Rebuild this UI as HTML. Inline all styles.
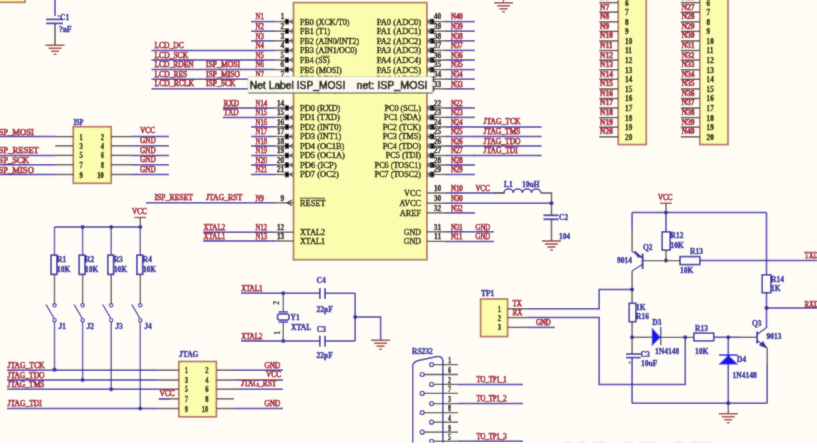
<!DOCTYPE html>
<html><head><meta charset="utf-8"><style>
html,body{margin:0;padding:0;background:#FFFCF6;overflow:hidden;}
svg{display:block;}
text{font-family:"Liberation Serif", serif;font-weight:bold;}
</style></head><body>
<svg width="817" height="448" viewBox="0 0 817 448">
<defs><filter id="bl" x="-2%" y="-2%" width="104%" height="104%"><feConvolveMatrix order="3" kernelMatrix="1 2 1 2 16 2 1 2 1" edgeMode="duplicate"/></filter></defs>
<rect x="0" y="0" width="817" height="448" fill="#FFFCF6"/>
<g filter="url(#bl)">
<rect x="0" y="0" width="817" height="448" fill="#FFFCF6"/>
<rect x="-5.0" y="-10.0" width="30.0" height="12.3" fill="#FCFCAE" stroke="#B4705A" stroke-width="1.7"/>
<line x1="55.0" y1="0.0" x2="55.0" y2="16.0" stroke="#3428A8" stroke-width="1.5"/>
<line x1="55.0" y1="23.4" x2="55.0" y2="45.0" stroke="#3a2424" stroke-width="1.3"/>
<line x1="46.0" y1="19.4" x2="63.0" y2="19.4" stroke="#3428A8" stroke-width="1.7"/>
<line x1="46.0" y1="23.4" x2="63.0" y2="23.4" stroke="#3428A8" stroke-width="1.7"/>
<circle cx="58.5" cy="16" r="0.9" fill="#1E1E9C"/>
<text x="60.0" y="20.0" fill="#1E1E9C" stroke="#1E1E9C" stroke-width="0.4" font-size="7.9" text-anchor="start" textLength="9.17" lengthAdjust="spacingAndGlyphs" >C1</text>
<text x="59.0" y="31.5" fill="#1E1E9C" stroke="#1E1E9C" stroke-width="0.4" font-size="7.9" text-anchor="start" textLength="12.51" lengthAdjust="spacingAndGlyphs" >?nF</text>
<line x1="45.5" y1="45.3" x2="64.5" y2="45.3" stroke="#9A3030" stroke-width="1.5"/>
<line x1="48.5" y1="48.3" x2="61.5" y2="48.3" stroke="#9A3030" stroke-width="1.5"/>
<line x1="51.0" y1="51.3" x2="59.0" y2="51.3" stroke="#9A3030" stroke-width="1.5"/>
<line x1="53.5" y1="54.3" x2="56.5" y2="54.3" stroke="#9A3030" stroke-width="1.3"/>
<line x1="503.5" y1="-2.0" x2="503.5" y2="2.8" stroke="#9A3030" stroke-width="1.3"/>
<line x1="494.0" y1="2.8" x2="513.0" y2="2.8" stroke="#9A3030" stroke-width="1.5"/>
<line x1="497.0" y1="5.8" x2="510.0" y2="5.8" stroke="#9A3030" stroke-width="1.5"/>
<line x1="499.5" y1="8.8" x2="507.5" y2="8.8" stroke="#9A3030" stroke-width="1.5"/>
<line x1="502.0" y1="11.8" x2="505.0" y2="11.8" stroke="#9A3030" stroke-width="1.3"/>
<rect x="293.5" y="2.6" width="133.4" height="257.1" fill="#FCFCAE" stroke="#B4705A" stroke-width="1.7"/>
<line x1="251.0" y1="21.6" x2="275.0" y2="21.6" stroke="#3428A8" stroke-width="1.5"/>
<line x1="275.0" y1="21.6" x2="293.5" y2="21.6" stroke="#454545" stroke-width="1.3"/>
<path d="M284.8,18.8 h4.2 v5.6 h-4.2 z" fill="#111"/>
<path d="M293.3,19.2 L289,21.6 L293.3,24.0" fill="none" stroke="#555a66" stroke-width="1"/>
<text x="284.4" y="19.4" fill="#080600" stroke="#080600" stroke-width="0.3" font-size="7.6" text-anchor="end" >1</text>
<text x="255.5" y="19.3" fill="#A82438" stroke="#A82438" stroke-width="0.75" style="font-weight:normal" font-size="8" text-anchor="start" textLength="8.31" lengthAdjust="spacingAndGlyphs">N1</text>
<text x="300.0" y="24.5" fill="#080600" stroke="#080600" stroke-width="0.38" style="font-weight:normal" font-size="8.2" text-anchor="start" textLength="49.55" lengthAdjust="spacingAndGlyphs">PB0 (XCK/T0)</text>
<line x1="426.9" y1="21.6" x2="445.0" y2="21.6" stroke="#454545" stroke-width="1.3"/>
<line x1="445.0" y1="21.6" x2="475.0" y2="21.6" stroke="#3428A8" stroke-width="1.5"/>
<path d="M429.8,18.8 h4.4 v5.6 h-4.4 z" fill="#111"/>
<path d="M427.2,19.2 L431.5,21.6 L427.2,24.0" fill="none" stroke="#555a66" stroke-width="1"/>
<text x="437.6" y="19.4" fill="#080600" stroke="#080600" stroke-width="0.3" font-size="7.6" text-anchor="middle" >40</text>
<text x="451.0" y="19.3" fill="#A82438" stroke="#A82438" stroke-width="0.75" style="font-weight:normal" font-size="8" text-anchor="start" textLength="11.71" lengthAdjust="spacingAndGlyphs">N40</text>
<text x="421.0" y="24.5" fill="#080600" stroke="#080600" stroke-width="0.38" style="font-weight:normal" font-size="8.2" text-anchor="end" textLength="44.24" lengthAdjust="spacingAndGlyphs">PA0 (ADC0)</text>
<line x1="251.0" y1="31.2" x2="275.0" y2="31.2" stroke="#3428A8" stroke-width="1.5"/>
<line x1="275.0" y1="31.2" x2="293.5" y2="31.2" stroke="#454545" stroke-width="1.3"/>
<path d="M284.8,28.4 h4.2 v5.6 h-4.2 z" fill="#111"/>
<path d="M293.3,28.8 L289,31.2 L293.3,33.6" fill="none" stroke="#555a66" stroke-width="1"/>
<text x="284.4" y="29.0" fill="#080600" stroke="#080600" stroke-width="0.3" font-size="7.6" text-anchor="end" >2</text>
<text x="255.5" y="28.9" fill="#A82438" stroke="#A82438" stroke-width="0.75" style="font-weight:normal" font-size="8" text-anchor="start" textLength="8.31" lengthAdjust="spacingAndGlyphs">N2</text>
<text x="300.0" y="34.1" fill="#080600" stroke="#080600" stroke-width="0.38" style="font-weight:normal" font-size="8.2" text-anchor="start" textLength="30.08" lengthAdjust="spacingAndGlyphs">PB1 (T1)</text>
<line x1="426.9" y1="31.2" x2="445.0" y2="31.2" stroke="#454545" stroke-width="1.3"/>
<line x1="445.0" y1="31.2" x2="475.0" y2="31.2" stroke="#3428A8" stroke-width="1.5"/>
<path d="M429.8,28.4 h4.4 v5.6 h-4.4 z" fill="#111"/>
<path d="M427.2,28.8 L431.5,31.2 L427.2,33.6" fill="none" stroke="#555a66" stroke-width="1"/>
<text x="437.6" y="29.0" fill="#080600" stroke="#080600" stroke-width="0.3" font-size="7.6" text-anchor="middle" >39</text>
<text x="451.0" y="28.9" fill="#A82438" stroke="#A82438" stroke-width="0.75" style="font-weight:normal" font-size="8" text-anchor="start" textLength="11.71" lengthAdjust="spacingAndGlyphs">N39</text>
<text x="421.0" y="34.1" fill="#080600" stroke="#080600" stroke-width="0.38" style="font-weight:normal" font-size="8.2" text-anchor="end" textLength="44.24" lengthAdjust="spacingAndGlyphs">PA1 (ADC1)</text>
<line x1="251.0" y1="40.8" x2="275.0" y2="40.8" stroke="#3428A8" stroke-width="1.5"/>
<line x1="275.0" y1="40.8" x2="293.5" y2="40.8" stroke="#454545" stroke-width="1.3"/>
<path d="M284.8,38.0 h4.2 v5.6 h-4.2 z" fill="#111"/>
<path d="M293.3,38.4 L289,40.8 L293.3,43.2" fill="none" stroke="#555a66" stroke-width="1"/>
<text x="284.4" y="38.6" fill="#080600" stroke="#080600" stroke-width="0.3" font-size="7.6" text-anchor="end" >3</text>
<text x="255.5" y="38.5" fill="#A82438" stroke="#A82438" stroke-width="0.75" style="font-weight:normal" font-size="8" text-anchor="start" textLength="8.31" lengthAdjust="spacingAndGlyphs">N3</text>
<text x="300.0" y="43.7" fill="#080600" stroke="#080600" stroke-width="0.38" style="font-weight:normal" font-size="8.2" text-anchor="start" textLength="59.08" lengthAdjust="spacingAndGlyphs">PB2 (AIN0/INT2)</text>
<line x1="426.9" y1="40.8" x2="445.0" y2="40.8" stroke="#454545" stroke-width="1.3"/>
<line x1="445.0" y1="40.8" x2="475.0" y2="40.8" stroke="#3428A8" stroke-width="1.5"/>
<path d="M429.8,38.0 h4.4 v5.6 h-4.4 z" fill="#111"/>
<path d="M427.2,38.4 L431.5,40.8 L427.2,43.2" fill="none" stroke="#555a66" stroke-width="1"/>
<text x="437.6" y="38.6" fill="#080600" stroke="#080600" stroke-width="0.3" font-size="7.6" text-anchor="middle" >38</text>
<text x="451.0" y="38.5" fill="#A82438" stroke="#A82438" stroke-width="0.75" style="font-weight:normal" font-size="8" text-anchor="start" textLength="11.71" lengthAdjust="spacingAndGlyphs">N38</text>
<text x="421.0" y="43.7" fill="#080600" stroke="#080600" stroke-width="0.38" style="font-weight:normal" font-size="8.2" text-anchor="end" textLength="44.24" lengthAdjust="spacingAndGlyphs">PA2 (ADC2)</text>
<line x1="151.5" y1="50.4" x2="275.0" y2="50.4" stroke="#3428A8" stroke-width="1.5"/>
<line x1="275.0" y1="50.4" x2="293.5" y2="50.4" stroke="#454545" stroke-width="1.3"/>
<path d="M284.8,47.6 h4.2 v5.6 h-4.2 z" fill="#111"/>
<path d="M293.3,48.0 L289,50.4 L293.3,52.8" fill="none" stroke="#555a66" stroke-width="1"/>
<text x="284.4" y="48.2" fill="#080600" stroke="#080600" stroke-width="0.3" font-size="7.6" text-anchor="end" >4</text>
<text x="255.5" y="48.1" fill="#A82438" stroke="#A82438" stroke-width="0.75" style="font-weight:normal" font-size="8" text-anchor="start" textLength="8.31" lengthAdjust="spacingAndGlyphs">N4</text>
<text x="300.0" y="53.3" fill="#080600" stroke="#080600" stroke-width="0.38" style="font-weight:normal" font-size="8.2" text-anchor="start" textLength="56.91" lengthAdjust="spacingAndGlyphs">PB3 (AIN1/OC0)</text>
<line x1="426.9" y1="50.4" x2="445.0" y2="50.4" stroke="#454545" stroke-width="1.3"/>
<line x1="445.0" y1="50.4" x2="475.0" y2="50.4" stroke="#3428A8" stroke-width="1.5"/>
<path d="M429.8,47.6 h4.4 v5.6 h-4.4 z" fill="#111"/>
<path d="M427.2,48.0 L431.5,50.4 L427.2,52.8" fill="none" stroke="#555a66" stroke-width="1"/>
<text x="437.6" y="48.2" fill="#080600" stroke="#080600" stroke-width="0.3" font-size="7.6" text-anchor="middle" >37</text>
<text x="451.0" y="48.1" fill="#A82438" stroke="#A82438" stroke-width="0.75" style="font-weight:normal" font-size="8" text-anchor="start" textLength="11.71" lengthAdjust="spacingAndGlyphs">N37</text>
<text x="421.0" y="53.3" fill="#080600" stroke="#080600" stroke-width="0.38" style="font-weight:normal" font-size="8.2" text-anchor="end" textLength="44.24" lengthAdjust="spacingAndGlyphs">PA3 (ADC3)</text>
<line x1="151.5" y1="60.0" x2="275.0" y2="60.0" stroke="#3428A8" stroke-width="1.5"/>
<line x1="275.0" y1="60.0" x2="293.5" y2="60.0" stroke="#454545" stroke-width="1.3"/>
<path d="M284.8,57.2 h4.2 v5.6 h-4.2 z" fill="#111"/>
<path d="M293.3,57.6 L289,60.0 L293.3,62.4" fill="none" stroke="#555a66" stroke-width="1"/>
<text x="284.4" y="57.8" fill="#080600" stroke="#080600" stroke-width="0.3" font-size="7.6" text-anchor="end" >5</text>
<text x="255.5" y="57.7" fill="#A82438" stroke="#A82438" stroke-width="0.75" style="font-weight:normal" font-size="8" text-anchor="start" textLength="8.31" lengthAdjust="spacingAndGlyphs">N5</text>
<text x="300.0" y="62.9" fill="#080600" stroke="#080600" stroke-width="0.38" style="font-weight:normal" font-size="8.2" text-anchor="start" textLength="29.65" lengthAdjust="spacingAndGlyphs">PB4 (SS)</text>
<line x1="426.9" y1="60.0" x2="445.0" y2="60.0" stroke="#454545" stroke-width="1.3"/>
<line x1="445.0" y1="60.0" x2="475.0" y2="60.0" stroke="#3428A8" stroke-width="1.5"/>
<path d="M429.8,57.2 h4.4 v5.6 h-4.4 z" fill="#111"/>
<path d="M427.2,57.6 L431.5,60.0 L427.2,62.4" fill="none" stroke="#555a66" stroke-width="1"/>
<text x="437.6" y="57.8" fill="#080600" stroke="#080600" stroke-width="0.3" font-size="7.6" text-anchor="middle" >36</text>
<text x="451.0" y="57.7" fill="#A82438" stroke="#A82438" stroke-width="0.75" style="font-weight:normal" font-size="8" text-anchor="start" textLength="11.71" lengthAdjust="spacingAndGlyphs">N36</text>
<text x="421.0" y="62.9" fill="#080600" stroke="#080600" stroke-width="0.38" style="font-weight:normal" font-size="8.2" text-anchor="end" textLength="44.24" lengthAdjust="spacingAndGlyphs">PA4 (ADC4)</text>
<line x1="151.5" y1="69.6" x2="275.0" y2="69.6" stroke="#3428A8" stroke-width="1.5"/>
<line x1="275.0" y1="69.6" x2="293.5" y2="69.6" stroke="#454545" stroke-width="1.3"/>
<path d="M284.8,66.8 h4.2 v5.6 h-4.2 z" fill="#111"/>
<path d="M293.3,67.2 L289,69.6 L293.3,72.0" fill="none" stroke="#555a66" stroke-width="1"/>
<text x="284.4" y="67.4" fill="#080600" stroke="#080600" stroke-width="0.3" font-size="7.6" text-anchor="end" >6</text>
<text x="255.5" y="67.3" fill="#A82438" stroke="#A82438" stroke-width="0.75" style="font-weight:normal" font-size="8" text-anchor="start" textLength="8.31" lengthAdjust="spacingAndGlyphs">N6</text>
<text x="300.0" y="72.5" fill="#080600" stroke="#080600" stroke-width="0.38" style="font-weight:normal" font-size="8.2" text-anchor="start" textLength="41.76" lengthAdjust="spacingAndGlyphs">PB5 (MOSI)</text>
<line x1="426.9" y1="69.6" x2="445.0" y2="69.6" stroke="#454545" stroke-width="1.3"/>
<line x1="445.0" y1="69.6" x2="475.0" y2="69.6" stroke="#3428A8" stroke-width="1.5"/>
<path d="M429.8,66.8 h4.4 v5.6 h-4.4 z" fill="#111"/>
<path d="M427.2,67.2 L431.5,69.6 L427.2,72.0" fill="none" stroke="#555a66" stroke-width="1"/>
<text x="437.6" y="67.4" fill="#080600" stroke="#080600" stroke-width="0.3" font-size="7.6" text-anchor="middle" >35</text>
<text x="451.0" y="67.3" fill="#A82438" stroke="#A82438" stroke-width="0.75" style="font-weight:normal" font-size="8" text-anchor="start" textLength="11.71" lengthAdjust="spacingAndGlyphs">N35</text>
<text x="421.0" y="72.5" fill="#080600" stroke="#080600" stroke-width="0.38" style="font-weight:normal" font-size="8.2" text-anchor="end" textLength="44.24" lengthAdjust="spacingAndGlyphs">PA5 (ADC5)</text>
<line x1="151.5" y1="79.2" x2="275.0" y2="79.2" stroke="#3428A8" stroke-width="1.5"/>
<line x1="275.0" y1="79.2" x2="293.5" y2="79.2" stroke="#454545" stroke-width="1.3"/>
<path d="M284.8,76.4 h4.2 v5.6 h-4.2 z" fill="#111"/>
<path d="M293.3,76.8 L289,79.2 L293.3,81.6" fill="none" stroke="#555a66" stroke-width="1"/>
<text x="284.4" y="77.0" fill="#080600" stroke="#080600" stroke-width="0.3" font-size="7.6" text-anchor="end" >7</text>
<text x="255.5" y="76.9" fill="#A82438" stroke="#A82438" stroke-width="0.75" style="font-weight:normal" font-size="8" text-anchor="start" textLength="8.31" lengthAdjust="spacingAndGlyphs">N7</text>
<text x="300.0" y="82.1" fill="#080600" stroke="#080600" stroke-width="0.38" style="font-weight:normal" font-size="8.2" text-anchor="start" textLength="41.76" lengthAdjust="spacingAndGlyphs">PB6 (MISO)</text>
<line x1="426.9" y1="79.2" x2="445.0" y2="79.2" stroke="#454545" stroke-width="1.3"/>
<line x1="445.0" y1="79.2" x2="475.0" y2="79.2" stroke="#3428A8" stroke-width="1.5"/>
<path d="M429.8,76.4 h4.4 v5.6 h-4.4 z" fill="#111"/>
<path d="M427.2,76.8 L431.5,79.2 L427.2,81.6" fill="none" stroke="#555a66" stroke-width="1"/>
<text x="437.6" y="77.0" fill="#080600" stroke="#080600" stroke-width="0.3" font-size="7.6" text-anchor="middle" >34</text>
<text x="451.0" y="76.9" fill="#A82438" stroke="#A82438" stroke-width="0.75" style="font-weight:normal" font-size="8" text-anchor="start" textLength="11.71" lengthAdjust="spacingAndGlyphs">N34</text>
<text x="421.0" y="82.1" fill="#080600" stroke="#080600" stroke-width="0.38" style="font-weight:normal" font-size="8.2" text-anchor="end" textLength="44.24" lengthAdjust="spacingAndGlyphs">PA6 (ADC6)</text>
<line x1="151.5" y1="88.8" x2="275.0" y2="88.8" stroke="#3428A8" stroke-width="1.5"/>
<line x1="275.0" y1="88.8" x2="293.5" y2="88.8" stroke="#454545" stroke-width="1.3"/>
<path d="M284.8,86.0 h4.2 v5.6 h-4.2 z" fill="#111"/>
<path d="M293.3,86.4 L289,88.8 L293.3,91.2" fill="none" stroke="#555a66" stroke-width="1"/>
<text x="284.4" y="86.6" fill="#080600" stroke="#080600" stroke-width="0.3" font-size="7.6" text-anchor="end" >8</text>
<text x="255.5" y="86.5" fill="#A82438" stroke="#A82438" stroke-width="0.75" style="font-weight:normal" font-size="8" text-anchor="start" textLength="8.31" lengthAdjust="spacingAndGlyphs">N8</text>
<text x="300.0" y="91.7" fill="#080600" stroke="#080600" stroke-width="0.38" style="font-weight:normal" font-size="8.2" text-anchor="start" textLength="37.00" lengthAdjust="spacingAndGlyphs">PB7 (SCK)</text>
<line x1="426.9" y1="88.8" x2="445.0" y2="88.8" stroke="#454545" stroke-width="1.3"/>
<line x1="445.0" y1="88.8" x2="475.0" y2="88.8" stroke="#3428A8" stroke-width="1.5"/>
<path d="M429.8,86.0 h4.4 v5.6 h-4.4 z" fill="#111"/>
<path d="M427.2,86.4 L431.5,88.8 L427.2,91.2" fill="none" stroke="#555a66" stroke-width="1"/>
<text x="437.6" y="86.6" fill="#080600" stroke="#080600" stroke-width="0.3" font-size="7.6" text-anchor="middle" >33</text>
<text x="451.0" y="86.5" fill="#A82438" stroke="#A82438" stroke-width="0.75" style="font-weight:normal" font-size="8" text-anchor="start" textLength="11.71" lengthAdjust="spacingAndGlyphs">N33</text>
<text x="421.0" y="91.7" fill="#080600" stroke="#080600" stroke-width="0.38" style="font-weight:normal" font-size="8.2" text-anchor="end" textLength="44.24" lengthAdjust="spacingAndGlyphs">PA7 (ADC7)</text>
<line x1="321.0" y1="56.2" x2="330.0" y2="56.2" stroke="#141008" stroke-width="0.7"/>
<text x="154.5" y="48.0" fill="#A82438" stroke="#A82438" stroke-width="0.75" style="font-weight:normal" font-size="8" text-anchor="start" textLength="29.20" lengthAdjust="spacingAndGlyphs">LCD_DC</text>
<text x="154.5" y="57.6" fill="#A82438" stroke="#A82438" stroke-width="0.75" style="font-weight:normal" font-size="8" text-anchor="start" textLength="33.61" lengthAdjust="spacingAndGlyphs">LCD_SCK</text>
<text x="154.5" y="67.2" fill="#A82438" stroke="#A82438" stroke-width="0.75" style="font-weight:normal" font-size="8" text-anchor="start" textLength="39.20" lengthAdjust="spacingAndGlyphs">LCD_RDEN</text>
<text x="206.0" y="67.2" fill="#A82438" stroke="#A82438" stroke-width="0.75" style="font-weight:normal" font-size="8" text-anchor="start" textLength="34.01" lengthAdjust="spacingAndGlyphs">ISP_MOSI</text>
<text x="154.5" y="76.8" fill="#A82438" stroke="#A82438" stroke-width="0.75" style="font-weight:normal" font-size="8" text-anchor="start" textLength="32.81" lengthAdjust="spacingAndGlyphs">LCD_RES</text>
<text x="206.0" y="76.8" fill="#A82438" stroke="#A82438" stroke-width="0.75" style="font-weight:normal" font-size="8" text-anchor="start" textLength="34.01" lengthAdjust="spacingAndGlyphs">ISP_MISO</text>
<text x="154.5" y="86.4" fill="#A82438" stroke="#A82438" stroke-width="0.75" style="font-weight:normal" font-size="8" text-anchor="start" textLength="39.60" lengthAdjust="spacingAndGlyphs">LCD_RCLK</text>
<text x="206.0" y="86.4" fill="#A82438" stroke="#A82438" stroke-width="0.75" style="font-weight:normal" font-size="8" text-anchor="start" textLength="29.61" lengthAdjust="spacingAndGlyphs">ISP_SCK</text>
<line x1="222.8" y1="107.9" x2="275.0" y2="107.9" stroke="#3428A8" stroke-width="1.5"/>
<line x1="275.0" y1="107.9" x2="293.5" y2="107.9" stroke="#454545" stroke-width="1.3"/>
<path d="M284.8,105.1 h4.2 v5.6 h-4.2 z" fill="#111"/>
<path d="M293.3,105.5 L289,107.9 L293.3,110.3" fill="none" stroke="#555a66" stroke-width="1"/>
<text x="284.4" y="105.7" fill="#080600" stroke="#080600" stroke-width="0.3" font-size="7.6" text-anchor="end" >14</text>
<text x="255.5" y="105.6" fill="#A82438" stroke="#A82438" stroke-width="0.75" style="font-weight:normal" font-size="8" text-anchor="start" textLength="11.71" lengthAdjust="spacingAndGlyphs">N14</text>
<text x="300.0" y="110.8" fill="#080600" stroke="#080600" stroke-width="0.38" style="font-weight:normal" font-size="8.2" text-anchor="start" textLength="40.31" lengthAdjust="spacingAndGlyphs">PD0 (RXD)</text>
<line x1="426.9" y1="107.9" x2="445.0" y2="107.9" stroke="#454545" stroke-width="1.3"/>
<line x1="445.0" y1="107.9" x2="475.0" y2="107.9" stroke="#3428A8" stroke-width="1.5"/>
<path d="M429.8,105.1 h4.4 v5.6 h-4.4 z" fill="#111"/>
<path d="M427.2,105.5 L431.5,107.9 L427.2,110.3" fill="none" stroke="#555a66" stroke-width="1"/>
<text x="437.6" y="105.7" fill="#080600" stroke="#080600" stroke-width="0.3" font-size="7.6" text-anchor="middle" >22</text>
<text x="451.0" y="105.6" fill="#A82438" stroke="#A82438" stroke-width="0.75" style="font-weight:normal" font-size="8" text-anchor="start" textLength="11.71" lengthAdjust="spacingAndGlyphs">N22</text>
<text x="421.0" y="110.8" fill="#080600" stroke="#080600" stroke-width="0.38" style="font-weight:normal" font-size="8.2" text-anchor="end" textLength="36.57" lengthAdjust="spacingAndGlyphs">PC0 (SCL)</text>
<line x1="222.8" y1="117.4" x2="275.0" y2="117.4" stroke="#3428A8" stroke-width="1.5"/>
<line x1="275.0" y1="117.4" x2="293.5" y2="117.4" stroke="#454545" stroke-width="1.3"/>
<path d="M284.8,114.6 h4.2 v5.6 h-4.2 z" fill="#111"/>
<path d="M293.3,115.0 L289,117.4 L293.3,119.8" fill="none" stroke="#555a66" stroke-width="1"/>
<text x="284.4" y="115.2" fill="#080600" stroke="#080600" stroke-width="0.3" font-size="7.6" text-anchor="end" >15</text>
<text x="255.5" y="115.1" fill="#A82438" stroke="#A82438" stroke-width="0.75" style="font-weight:normal" font-size="8" text-anchor="start" textLength="11.71" lengthAdjust="spacingAndGlyphs">N15</text>
<text x="300.0" y="120.3" fill="#080600" stroke="#080600" stroke-width="0.38" style="font-weight:normal" font-size="8.2" text-anchor="start" textLength="39.85" lengthAdjust="spacingAndGlyphs">PD1 (TXD)</text>
<line x1="426.9" y1="117.4" x2="445.0" y2="117.4" stroke="#454545" stroke-width="1.3"/>
<line x1="445.0" y1="117.4" x2="475.0" y2="117.4" stroke="#3428A8" stroke-width="1.5"/>
<path d="M429.8,114.6 h4.4 v5.6 h-4.4 z" fill="#111"/>
<path d="M427.2,115.0 L431.5,117.4 L427.2,119.8" fill="none" stroke="#555a66" stroke-width="1"/>
<text x="437.6" y="115.2" fill="#080600" stroke="#080600" stroke-width="0.3" font-size="7.6" text-anchor="middle" >23</text>
<text x="451.0" y="115.1" fill="#A82438" stroke="#A82438" stroke-width="0.75" style="font-weight:normal" font-size="8" text-anchor="start" textLength="11.71" lengthAdjust="spacingAndGlyphs">N23</text>
<text x="421.0" y="120.3" fill="#080600" stroke="#080600" stroke-width="0.38" style="font-weight:normal" font-size="8.2" text-anchor="end" textLength="37.00" lengthAdjust="spacingAndGlyphs">PC1 (SDA)</text>
<line x1="251.0" y1="126.9" x2="275.0" y2="126.9" stroke="#3428A8" stroke-width="1.5"/>
<line x1="275.0" y1="126.9" x2="293.5" y2="126.9" stroke="#454545" stroke-width="1.3"/>
<path d="M284.8,124.1 h4.2 v5.6 h-4.2 z" fill="#111"/>
<path d="M293.3,124.5 L289,126.9 L293.3,129.3" fill="none" stroke="#555a66" stroke-width="1"/>
<text x="284.4" y="124.7" fill="#080600" stroke="#080600" stroke-width="0.3" font-size="7.6" text-anchor="end" >16</text>
<text x="255.5" y="124.6" fill="#A82438" stroke="#A82438" stroke-width="0.75" style="font-weight:normal" font-size="8" text-anchor="start" textLength="11.71" lengthAdjust="spacingAndGlyphs">N16</text>
<text x="300.0" y="129.8" fill="#080600" stroke="#080600" stroke-width="0.38" style="font-weight:normal" font-size="8.2" text-anchor="start" textLength="41.22" lengthAdjust="spacingAndGlyphs">PD2 (INT0)</text>
<line x1="426.9" y1="126.9" x2="445.0" y2="126.9" stroke="#454545" stroke-width="1.3"/>
<line x1="445.0" y1="126.9" x2="475.0" y2="126.9" stroke="#3428A8" stroke-width="1.5"/>
<path d="M429.8,124.1 h4.4 v5.6 h-4.4 z" fill="#111"/>
<path d="M427.2,124.5 L431.5,126.9 L427.2,129.3" fill="none" stroke="#555a66" stroke-width="1"/>
<text x="437.6" y="124.7" fill="#080600" stroke="#080600" stroke-width="0.3" font-size="7.6" text-anchor="middle" >24</text>
<text x="451.0" y="124.6" fill="#A82438" stroke="#A82438" stroke-width="0.75" style="font-weight:normal" font-size="8" text-anchor="start" textLength="11.71" lengthAdjust="spacingAndGlyphs">N24</text>
<text x="421.0" y="129.8" fill="#080600" stroke="#080600" stroke-width="0.38" style="font-weight:normal" font-size="8.2" text-anchor="end" textLength="38.30" lengthAdjust="spacingAndGlyphs">PC2 (TCK)</text>
<line x1="251.0" y1="136.5" x2="275.0" y2="136.5" stroke="#3428A8" stroke-width="1.5"/>
<line x1="275.0" y1="136.5" x2="293.5" y2="136.5" stroke="#454545" stroke-width="1.3"/>
<path d="M284.8,133.7 h4.2 v5.6 h-4.2 z" fill="#111"/>
<path d="M293.3,134.1 L289,136.5 L293.3,138.9" fill="none" stroke="#555a66" stroke-width="1"/>
<text x="284.4" y="134.3" fill="#080600" stroke="#080600" stroke-width="0.3" font-size="7.6" text-anchor="end" >17</text>
<text x="255.5" y="134.2" fill="#A82438" stroke="#A82438" stroke-width="0.75" style="font-weight:normal" font-size="8" text-anchor="start" textLength="11.71" lengthAdjust="spacingAndGlyphs">N17</text>
<text x="300.0" y="139.4" fill="#080600" stroke="#080600" stroke-width="0.38" style="font-weight:normal" font-size="8.2" text-anchor="start" textLength="41.22" lengthAdjust="spacingAndGlyphs">PD3 (INT1)</text>
<line x1="426.9" y1="136.5" x2="445.0" y2="136.5" stroke="#454545" stroke-width="1.3"/>
<line x1="445.0" y1="136.5" x2="475.0" y2="136.5" stroke="#3428A8" stroke-width="1.5"/>
<path d="M429.8,133.7 h4.4 v5.6 h-4.4 z" fill="#111"/>
<path d="M427.2,134.1 L431.5,136.5 L427.2,138.9" fill="none" stroke="#555a66" stroke-width="1"/>
<text x="437.6" y="134.3" fill="#080600" stroke="#080600" stroke-width="0.3" font-size="7.6" text-anchor="middle" >25</text>
<text x="451.0" y="134.2" fill="#A82438" stroke="#A82438" stroke-width="0.75" style="font-weight:normal" font-size="8" text-anchor="start" textLength="11.71" lengthAdjust="spacingAndGlyphs">N25</text>
<text x="421.0" y="139.4" fill="#080600" stroke="#080600" stroke-width="0.38" style="font-weight:normal" font-size="8.2" text-anchor="end" textLength="38.30" lengthAdjust="spacingAndGlyphs">PC3 (TMS)</text>
<line x1="251.0" y1="146.0" x2="275.0" y2="146.0" stroke="#3428A8" stroke-width="1.5"/>
<line x1="275.0" y1="146.0" x2="293.5" y2="146.0" stroke="#454545" stroke-width="1.3"/>
<path d="M284.8,143.2 h4.2 v5.6 h-4.2 z" fill="#111"/>
<path d="M293.3,143.6 L289,146.0 L293.3,148.4" fill="none" stroke="#555a66" stroke-width="1"/>
<text x="284.4" y="143.8" fill="#080600" stroke="#080600" stroke-width="0.3" font-size="7.6" text-anchor="end" >18</text>
<text x="255.5" y="143.7" fill="#A82438" stroke="#A82438" stroke-width="0.75" style="font-weight:normal" font-size="8" text-anchor="start" textLength="11.71" lengthAdjust="spacingAndGlyphs">N18</text>
<text x="300.0" y="148.9" fill="#080600" stroke="#080600" stroke-width="0.38" style="font-weight:normal" font-size="8.2" text-anchor="start" textLength="44.41" lengthAdjust="spacingAndGlyphs">PD4 (OC1B)</text>
<line x1="426.9" y1="146.0" x2="445.0" y2="146.0" stroke="#454545" stroke-width="1.3"/>
<line x1="445.0" y1="146.0" x2="475.0" y2="146.0" stroke="#3428A8" stroke-width="1.5"/>
<path d="M429.8,143.2 h4.4 v5.6 h-4.4 z" fill="#111"/>
<path d="M427.2,143.6 L431.5,146.0 L427.2,148.4" fill="none" stroke="#555a66" stroke-width="1"/>
<text x="437.6" y="143.8" fill="#080600" stroke="#080600" stroke-width="0.3" font-size="7.6" text-anchor="middle" >26</text>
<text x="451.0" y="143.7" fill="#A82438" stroke="#A82438" stroke-width="0.75" style="font-weight:normal" font-size="8" text-anchor="start" textLength="11.71" lengthAdjust="spacingAndGlyphs">N26</text>
<text x="421.0" y="148.9" fill="#080600" stroke="#080600" stroke-width="0.38" style="font-weight:normal" font-size="8.2" text-anchor="end" textLength="38.30" lengthAdjust="spacingAndGlyphs">PC4 (TDO)</text>
<line x1="251.0" y1="155.5" x2="275.0" y2="155.5" stroke="#3428A8" stroke-width="1.5"/>
<line x1="275.0" y1="155.5" x2="293.5" y2="155.5" stroke="#454545" stroke-width="1.3"/>
<path d="M284.8,152.7 h4.2 v5.6 h-4.2 z" fill="#111"/>
<path d="M293.3,153.1 L289,155.5 L293.3,157.9" fill="none" stroke="#555a66" stroke-width="1"/>
<text x="284.4" y="153.3" fill="#080600" stroke="#080600" stroke-width="0.3" font-size="7.6" text-anchor="end" >19</text>
<text x="255.5" y="153.2" fill="#A82438" stroke="#A82438" stroke-width="0.75" style="font-weight:normal" font-size="8" text-anchor="start" textLength="11.71" lengthAdjust="spacingAndGlyphs">N19</text>
<text x="300.0" y="158.4" fill="#080600" stroke="#080600" stroke-width="0.38" style="font-weight:normal" font-size="8.2" text-anchor="start" textLength="44.86" lengthAdjust="spacingAndGlyphs">PD5 (OC1A)</text>
<line x1="426.9" y1="155.5" x2="445.0" y2="155.5" stroke="#454545" stroke-width="1.3"/>
<line x1="445.0" y1="155.5" x2="475.0" y2="155.5" stroke="#3428A8" stroke-width="1.5"/>
<path d="M429.8,152.7 h4.4 v5.6 h-4.4 z" fill="#111"/>
<path d="M427.2,153.1 L431.5,155.5 L427.2,157.9" fill="none" stroke="#555a66" stroke-width="1"/>
<text x="437.6" y="153.3" fill="#080600" stroke="#080600" stroke-width="0.3" font-size="7.6" text-anchor="middle" >27</text>
<text x="451.0" y="153.2" fill="#A82438" stroke="#A82438" stroke-width="0.75" style="font-weight:normal" font-size="8" text-anchor="start" textLength="11.71" lengthAdjust="spacingAndGlyphs">N27</text>
<text x="421.0" y="158.4" fill="#080600" stroke="#080600" stroke-width="0.38" style="font-weight:normal" font-size="8.2" text-anchor="end" textLength="35.27" lengthAdjust="spacingAndGlyphs">PC5 (TDI)</text>
<line x1="251.0" y1="165.0" x2="275.0" y2="165.0" stroke="#3428A8" stroke-width="1.5"/>
<line x1="275.0" y1="165.0" x2="293.5" y2="165.0" stroke="#454545" stroke-width="1.3"/>
<path d="M284.8,162.2 h4.2 v5.6 h-4.2 z" fill="#111"/>
<path d="M293.3,162.6 L289,165.0 L293.3,167.4" fill="none" stroke="#555a66" stroke-width="1"/>
<text x="284.4" y="162.8" fill="#080600" stroke="#080600" stroke-width="0.3" font-size="7.6" text-anchor="end" >20</text>
<text x="255.5" y="162.7" fill="#A82438" stroke="#A82438" stroke-width="0.75" style="font-weight:normal" font-size="8" text-anchor="start" textLength="11.71" lengthAdjust="spacingAndGlyphs">N20</text>
<text x="300.0" y="167.9" fill="#080600" stroke="#080600" stroke-width="0.38" style="font-weight:normal" font-size="8.2" text-anchor="start" textLength="36.66" lengthAdjust="spacingAndGlyphs">PD6 (ICP)</text>
<line x1="426.9" y1="165.0" x2="445.0" y2="165.0" stroke="#454545" stroke-width="1.3"/>
<line x1="445.0" y1="165.0" x2="475.0" y2="165.0" stroke="#3428A8" stroke-width="1.5"/>
<path d="M429.8,162.2 h4.4 v5.6 h-4.4 z" fill="#111"/>
<path d="M427.2,162.6 L431.5,165.0 L427.2,167.4" fill="none" stroke="#555a66" stroke-width="1"/>
<text x="437.6" y="162.8" fill="#080600" stroke="#080600" stroke-width="0.3" font-size="7.6" text-anchor="middle" >28</text>
<text x="451.0" y="162.7" fill="#A82438" stroke="#A82438" stroke-width="0.75" style="font-weight:normal" font-size="8" text-anchor="start" textLength="11.71" lengthAdjust="spacingAndGlyphs">N28</text>
<text x="421.0" y="167.9" fill="#080600" stroke="#080600" stroke-width="0.38" style="font-weight:normal" font-size="8.2" text-anchor="end" textLength="46.38" lengthAdjust="spacingAndGlyphs">PC6 (TOSC1)</text>
<line x1="251.0" y1="174.5" x2="275.0" y2="174.5" stroke="#3428A8" stroke-width="1.5"/>
<line x1="275.0" y1="174.5" x2="293.5" y2="174.5" stroke="#454545" stroke-width="1.3"/>
<path d="M284.8,171.7 h4.2 v5.6 h-4.2 z" fill="#111"/>
<path d="M293.3,172.1 L289,174.5 L293.3,176.9" fill="none" stroke="#555a66" stroke-width="1"/>
<text x="284.4" y="172.3" fill="#080600" stroke="#080600" stroke-width="0.3" font-size="7.6" text-anchor="end" >21</text>
<text x="255.5" y="172.2" fill="#A82438" stroke="#A82438" stroke-width="0.75" style="font-weight:normal" font-size="8" text-anchor="start" textLength="11.71" lengthAdjust="spacingAndGlyphs">N21</text>
<text x="300.0" y="177.4" fill="#080600" stroke="#080600" stroke-width="0.38" style="font-weight:normal" font-size="8.2" text-anchor="start" textLength="38.94" lengthAdjust="spacingAndGlyphs">PD7 (OC2)</text>
<line x1="426.9" y1="174.5" x2="445.0" y2="174.5" stroke="#454545" stroke-width="1.3"/>
<line x1="445.0" y1="174.5" x2="475.0" y2="174.5" stroke="#3428A8" stroke-width="1.5"/>
<path d="M429.8,171.7 h4.4 v5.6 h-4.4 z" fill="#111"/>
<path d="M427.2,172.1 L431.5,174.5 L427.2,176.9" fill="none" stroke="#555a66" stroke-width="1"/>
<text x="437.6" y="172.3" fill="#080600" stroke="#080600" stroke-width="0.3" font-size="7.6" text-anchor="middle" >29</text>
<text x="451.0" y="172.2" fill="#A82438" stroke="#A82438" stroke-width="0.75" style="font-weight:normal" font-size="8" text-anchor="start" textLength="11.71" lengthAdjust="spacingAndGlyphs">N29</text>
<text x="421.0" y="177.4" fill="#080600" stroke="#080600" stroke-width="0.38" style="font-weight:normal" font-size="8.2" text-anchor="end" textLength="46.38" lengthAdjust="spacingAndGlyphs">PC7 (TOSC2)</text>
<line x1="474.0" y1="126.9" x2="541.6" y2="126.9" stroke="#3428A8" stroke-width="1.5"/>
<text x="483.5" y="124.4" fill="#A82438" stroke="#A82438" stroke-width="0.75" style="font-weight:normal" font-size="8" text-anchor="start" textLength="37.03" lengthAdjust="spacingAndGlyphs">JTAG_TCK</text>
<line x1="474.0" y1="136.5" x2="541.6" y2="136.5" stroke="#3428A8" stroke-width="1.5"/>
<text x="483.5" y="134.0" fill="#A82438" stroke="#A82438" stroke-width="0.75" style="font-weight:normal" font-size="8" text-anchor="start" textLength="37.03" lengthAdjust="spacingAndGlyphs">JTAG_TMS</text>
<line x1="474.0" y1="146.0" x2="541.6" y2="146.0" stroke="#3428A8" stroke-width="1.5"/>
<text x="483.5" y="143.5" fill="#A82438" stroke="#A82438" stroke-width="0.75" style="font-weight:normal" font-size="8" text-anchor="start" textLength="37.03" lengthAdjust="spacingAndGlyphs">JTAG_TDO</text>
<line x1="474.0" y1="155.5" x2="541.6" y2="155.5" stroke="#3428A8" stroke-width="1.5"/>
<text x="483.5" y="153.0" fill="#A82438" stroke="#A82438" stroke-width="0.75" style="font-weight:normal" font-size="8" text-anchor="start" textLength="34.29" lengthAdjust="spacingAndGlyphs">JTAG_TDI</text>
<text x="223.5" y="105.5" fill="#A82438" stroke="#A82438" stroke-width="0.75" style="font-weight:normal" font-size="8" text-anchor="start" textLength="15.60" lengthAdjust="spacingAndGlyphs">RXD</text>
<text x="223.5" y="115.0" fill="#A82438" stroke="#A82438" stroke-width="0.75" style="font-weight:normal" font-size="8" text-anchor="start" textLength="15.20" lengthAdjust="spacingAndGlyphs">TXD</text>
<line x1="146.0" y1="202.8" x2="275.0" y2="202.8" stroke="#3428A8" stroke-width="1.5"/>
<line x1="275.0" y1="202.8" x2="293.5" y2="202.8" stroke="#454545" stroke-width="1.3"/>
<path d="M292,200.0 L287,202.8 L292,205.60000000000002" fill="none" stroke="#222" stroke-width="1.2"/>
<text x="284.4" y="200.6" fill="#080600" stroke="#080600" stroke-width="0.3" font-size="7.6" text-anchor="end" >9</text>
<text x="255.5" y="200.5" fill="#A82438" stroke="#A82438" stroke-width="0.75" style="font-weight:normal" font-size="8" text-anchor="start" textLength="8.31" lengthAdjust="spacingAndGlyphs">N9</text>
<text x="300.0" y="205.7" fill="#080600" stroke="#080600" stroke-width="0.38" style="font-weight:normal" font-size="8.2" text-anchor="start" textLength="25.55" lengthAdjust="spacingAndGlyphs">RESET</text>
<line x1="300.0" y1="198.2" x2="325.0" y2="198.2" stroke="#141008" stroke-width="0.8"/>
<text x="206.0" y="200.4" fill="#A82438" stroke="#A82438" stroke-width="0.75" style="font-weight:normal" font-size="8" text-anchor="start" textLength="36.27" lengthAdjust="spacingAndGlyphs">JTAG_RST</text>
<text x="154.5" y="200.4" fill="#A82438" stroke="#A82438" stroke-width="0.75" style="font-weight:normal" font-size="8" text-anchor="start" textLength="38.42" lengthAdjust="spacingAndGlyphs">ISP_RESET</text>
<line x1="203.2" y1="232.2" x2="275.0" y2="232.2" stroke="#3428A8" stroke-width="1.5"/>
<line x1="275.0" y1="232.2" x2="293.5" y2="232.2" stroke="#454545" stroke-width="1.3"/>
<text x="284.4" y="230.0" fill="#080600" stroke="#080600" stroke-width="0.3" font-size="7.6" text-anchor="end" >12</text>
<text x="255.5" y="229.9" fill="#A82438" stroke="#A82438" stroke-width="0.75" style="font-weight:normal" font-size="8" text-anchor="start" textLength="11.71" lengthAdjust="spacingAndGlyphs">N12</text>
<text x="300.0" y="235.1" fill="#080600" stroke="#080600" stroke-width="0.38" style="font-weight:normal" font-size="8.2" text-anchor="start" textLength="24.96" lengthAdjust="spacingAndGlyphs">XTAL2</text>
<line x1="203.2" y1="241.0" x2="275.0" y2="241.0" stroke="#3428A8" stroke-width="1.5"/>
<line x1="275.0" y1="241.0" x2="293.5" y2="241.0" stroke="#454545" stroke-width="1.3"/>
<text x="284.4" y="238.8" fill="#080600" stroke="#080600" stroke-width="0.3" font-size="7.6" text-anchor="end" >13</text>
<text x="255.5" y="238.7" fill="#A82438" stroke="#A82438" stroke-width="0.75" style="font-weight:normal" font-size="8" text-anchor="start" textLength="11.71" lengthAdjust="spacingAndGlyphs">N13</text>
<text x="300.0" y="243.9" fill="#080600" stroke="#080600" stroke-width="0.38" style="font-weight:normal" font-size="8.2" text-anchor="start" textLength="24.96" lengthAdjust="spacingAndGlyphs">XTAL1</text>
<text x="203.5" y="229.8" fill="#A82438" stroke="#A82438" stroke-width="0.75" style="font-weight:normal" font-size="8" text-anchor="start" textLength="21.79" lengthAdjust="spacingAndGlyphs">XTAL2</text>
<text x="203.5" y="238.6" fill="#A82438" stroke="#A82438" stroke-width="0.75" style="font-weight:normal" font-size="8" text-anchor="start" textLength="21.79" lengthAdjust="spacingAndGlyphs">XTAL1</text>
<line x1="426.9" y1="193.0" x2="445.0" y2="193.0" stroke="#454545" stroke-width="1.3"/>
<line x1="445.0" y1="193.0" x2="494.0" y2="193.0" stroke="#3428A8" stroke-width="1.5"/>
<line x1="494.0" y1="193.0" x2="505.0" y2="193.0" stroke="#454545" stroke-width="1.4"/>
<text x="437.6" y="190.8" fill="#080600" stroke="#080600" stroke-width="0.3" font-size="7.6" text-anchor="middle" >10</text>
<text x="451.0" y="190.7" fill="#A82438" stroke="#A82438" stroke-width="0.75" style="font-weight:normal" font-size="8" text-anchor="start" textLength="11.71" lengthAdjust="spacingAndGlyphs">N10</text>
<text x="421.0" y="195.9" fill="#080600" stroke="#080600" stroke-width="0.38" style="font-weight:normal" font-size="8.2" text-anchor="end" textLength="16.88" lengthAdjust="spacingAndGlyphs">VCC</text>
<line x1="426.9" y1="203.2" x2="445.0" y2="203.2" stroke="#454545" stroke-width="1.3"/>
<line x1="445.0" y1="203.2" x2="494.0" y2="203.2" stroke="#3428A8" stroke-width="1.5"/>
<line x1="494.0" y1="203.2" x2="551.5" y2="203.2" stroke="#3428A8" stroke-width="1.4"/>
<text x="437.6" y="201.0" fill="#080600" stroke="#080600" stroke-width="0.3" font-size="7.6" text-anchor="middle" >30</text>
<text x="451.0" y="200.9" fill="#A82438" stroke="#A82438" stroke-width="0.75" style="font-weight:normal" font-size="8" text-anchor="start" textLength="11.71" lengthAdjust="spacingAndGlyphs">N30</text>
<text x="421.0" y="206.1" fill="#080600" stroke="#080600" stroke-width="0.38" style="font-weight:normal" font-size="8.2" text-anchor="end" textLength="21.50" lengthAdjust="spacingAndGlyphs">AVCC</text>
<line x1="426.9" y1="212.9" x2="445.0" y2="212.9" stroke="#454545" stroke-width="1.3"/>
<line x1="445.0" y1="212.9" x2="475.0" y2="212.9" stroke="#3428A8" stroke-width="1.5"/>
<text x="437.6" y="210.7" fill="#080600" stroke="#080600" stroke-width="0.3" font-size="7.6" text-anchor="middle" >32</text>
<text x="451.0" y="210.6" fill="#A82438" stroke="#A82438" stroke-width="0.75" style="font-weight:normal" font-size="8" text-anchor="start" textLength="11.71" lengthAdjust="spacingAndGlyphs">N32</text>
<text x="421.0" y="215.8" fill="#080600" stroke="#080600" stroke-width="0.38" style="font-weight:normal" font-size="8.2" text-anchor="end" textLength="21.21" lengthAdjust="spacingAndGlyphs">AREF</text>
<line x1="426.9" y1="231.8" x2="445.0" y2="231.8" stroke="#454545" stroke-width="1.3"/>
<line x1="445.0" y1="231.8" x2="494.0" y2="231.8" stroke="#3428A8" stroke-width="1.5"/>
<text x="437.6" y="229.6" fill="#080600" stroke="#080600" stroke-width="0.3" font-size="7.6" text-anchor="middle" >31</text>
<text x="451.0" y="229.5" fill="#A82438" stroke="#A82438" stroke-width="0.75" style="font-weight:normal" font-size="8" text-anchor="start" textLength="11.71" lengthAdjust="spacingAndGlyphs">N31</text>
<text x="421.0" y="234.7" fill="#080600" stroke="#080600" stroke-width="0.38" style="font-weight:normal" font-size="8.2" text-anchor="end" textLength="17.31" lengthAdjust="spacingAndGlyphs">GND</text>
<line x1="426.9" y1="241.4" x2="445.0" y2="241.4" stroke="#454545" stroke-width="1.3"/>
<line x1="445.0" y1="241.4" x2="494.0" y2="241.4" stroke="#3428A8" stroke-width="1.5"/>
<text x="437.6" y="239.2" fill="#080600" stroke="#080600" stroke-width="0.3" font-size="7.6" text-anchor="middle" >11</text>
<text x="451.0" y="239.1" fill="#A82438" stroke="#A82438" stroke-width="0.75" style="font-weight:normal" font-size="8" text-anchor="start" textLength="11.34" lengthAdjust="spacingAndGlyphs">N11</text>
<text x="421.0" y="244.3" fill="#080600" stroke="#080600" stroke-width="0.38" style="font-weight:normal" font-size="8.2" text-anchor="end" textLength="17.31" lengthAdjust="spacingAndGlyphs">GND</text>
<text x="475.5" y="190.8" fill="#A82438" stroke="#A82438" stroke-width="0.75" style="font-weight:normal" font-size="7.8" text-anchor="start" textLength="14.36" lengthAdjust="spacingAndGlyphs">VCC</text>
<text x="475.5" y="229.5" fill="#A82438" stroke="#A82438" stroke-width="0.75" style="font-weight:normal" font-size="7.8" text-anchor="start" textLength="14.73" lengthAdjust="spacingAndGlyphs">GND</text>
<text x="475.5" y="239.0" fill="#A82438" stroke="#A82438" stroke-width="0.75" style="font-weight:normal" font-size="7.8" text-anchor="start" textLength="14.73" lengthAdjust="spacingAndGlyphs">GND</text>
<rect x="618.3" y="-10.0" width="28.0" height="154.6" fill="#FCFCAE" stroke="#B4705A" stroke-width="1.7"/>
<line x1="599.3" y1="-7.0" x2="618.3" y2="-7.0" stroke="#3c4444" stroke-width="1.4"/>
<text x="625.1" y="-4.1" fill="#080600" stroke="#080600" stroke-width="0.3" font-size="8" text-anchor="start" textLength="3.60" lengthAdjust="spacingAndGlyphs" >5</text>
<text x="600.0" y="-9.6" fill="#A82438" stroke="#A82438" stroke-width="0.55" font-size="7.2" text-anchor="start" textLength="9.24" lengthAdjust="spacingAndGlyphs" >N5</text>
<line x1="599.3" y1="2.6" x2="618.3" y2="2.6" stroke="#3c4444" stroke-width="1.4"/>
<text x="625.1" y="5.5" fill="#080600" stroke="#080600" stroke-width="0.3" font-size="8" text-anchor="start" textLength="3.60" lengthAdjust="spacingAndGlyphs" >6</text>
<text x="600.0" y="-0.0" fill="#A82438" stroke="#A82438" stroke-width="0.55" font-size="7.2" text-anchor="start" textLength="9.24" lengthAdjust="spacingAndGlyphs" >N6</text>
<line x1="599.3" y1="12.2" x2="618.3" y2="12.2" stroke="#3c4444" stroke-width="1.4"/>
<text x="625.1" y="15.1" fill="#080600" stroke="#080600" stroke-width="0.3" font-size="8" text-anchor="start" textLength="3.60" lengthAdjust="spacingAndGlyphs" >7</text>
<text x="600.0" y="9.6" fill="#A82438" stroke="#A82438" stroke-width="0.55" font-size="7.2" text-anchor="start" textLength="9.24" lengthAdjust="spacingAndGlyphs" >N7</text>
<line x1="599.3" y1="21.8" x2="618.3" y2="21.8" stroke="#3c4444" stroke-width="1.4"/>
<text x="625.1" y="24.7" fill="#080600" stroke="#080600" stroke-width="0.3" font-size="8" text-anchor="start" textLength="3.60" lengthAdjust="spacingAndGlyphs" >8</text>
<text x="600.0" y="19.2" fill="#A82438" stroke="#A82438" stroke-width="0.55" font-size="7.2" text-anchor="start" textLength="9.24" lengthAdjust="spacingAndGlyphs" >N8</text>
<line x1="599.3" y1="31.4" x2="618.3" y2="31.4" stroke="#3c4444" stroke-width="1.4"/>
<text x="625.1" y="34.3" fill="#080600" stroke="#080600" stroke-width="0.3" font-size="8" text-anchor="start" textLength="3.60" lengthAdjust="spacingAndGlyphs" >9</text>
<text x="600.0" y="28.8" fill="#A82438" stroke="#A82438" stroke-width="0.55" font-size="7.2" text-anchor="start" textLength="9.24" lengthAdjust="spacingAndGlyphs" >N9</text>
<line x1="599.3" y1="40.9" x2="618.3" y2="40.9" stroke="#3c4444" stroke-width="1.4"/>
<text x="625.1" y="43.8" fill="#080600" stroke="#080600" stroke-width="0.3" font-size="8" text-anchor="start" textLength="7.20" lengthAdjust="spacingAndGlyphs" >10</text>
<text x="600.0" y="38.3" fill="#A82438" stroke="#A82438" stroke-width="0.55" font-size="7.2" text-anchor="start" textLength="13.02" lengthAdjust="spacingAndGlyphs" >N10</text>
<line x1="599.3" y1="50.5" x2="618.3" y2="50.5" stroke="#3c4444" stroke-width="1.4"/>
<text x="625.1" y="53.4" fill="#080600" stroke="#080600" stroke-width="0.3" font-size="8" text-anchor="start" textLength="6.80" lengthAdjust="spacingAndGlyphs" >11</text>
<text x="600.0" y="47.9" fill="#A82438" stroke="#A82438" stroke-width="0.55" font-size="7.2" text-anchor="start" textLength="12.60" lengthAdjust="spacingAndGlyphs" >N11</text>
<line x1="599.3" y1="60.1" x2="618.3" y2="60.1" stroke="#3c4444" stroke-width="1.4"/>
<text x="625.1" y="63.0" fill="#080600" stroke="#080600" stroke-width="0.3" font-size="8" text-anchor="start" textLength="7.20" lengthAdjust="spacingAndGlyphs" >12</text>
<text x="600.0" y="57.5" fill="#A82438" stroke="#A82438" stroke-width="0.55" font-size="7.2" text-anchor="start" textLength="13.02" lengthAdjust="spacingAndGlyphs" >N12</text>
<line x1="599.3" y1="69.7" x2="618.3" y2="69.7" stroke="#3c4444" stroke-width="1.4"/>
<text x="625.1" y="72.6" fill="#080600" stroke="#080600" stroke-width="0.3" font-size="8" text-anchor="start" textLength="7.20" lengthAdjust="spacingAndGlyphs" >13</text>
<text x="600.0" y="67.1" fill="#A82438" stroke="#A82438" stroke-width="0.55" font-size="7.2" text-anchor="start" textLength="13.02" lengthAdjust="spacingAndGlyphs" >N13</text>
<line x1="599.3" y1="79.3" x2="618.3" y2="79.3" stroke="#3c4444" stroke-width="1.4"/>
<text x="625.1" y="82.2" fill="#080600" stroke="#080600" stroke-width="0.3" font-size="8" text-anchor="start" textLength="7.20" lengthAdjust="spacingAndGlyphs" >14</text>
<text x="600.0" y="76.7" fill="#A82438" stroke="#A82438" stroke-width="0.55" font-size="7.2" text-anchor="start" textLength="13.02" lengthAdjust="spacingAndGlyphs" >N14</text>
<line x1="599.3" y1="88.9" x2="618.3" y2="88.9" stroke="#3c4444" stroke-width="1.4"/>
<text x="625.1" y="91.8" fill="#080600" stroke="#080600" stroke-width="0.3" font-size="8" text-anchor="start" textLength="7.20" lengthAdjust="spacingAndGlyphs" >15</text>
<text x="600.0" y="86.3" fill="#A82438" stroke="#A82438" stroke-width="0.55" font-size="7.2" text-anchor="start" textLength="13.02" lengthAdjust="spacingAndGlyphs" >N15</text>
<line x1="599.3" y1="98.5" x2="618.3" y2="98.5" stroke="#3c4444" stroke-width="1.4"/>
<text x="625.1" y="101.4" fill="#080600" stroke="#080600" stroke-width="0.3" font-size="8" text-anchor="start" textLength="7.20" lengthAdjust="spacingAndGlyphs" >16</text>
<text x="600.0" y="95.9" fill="#A82438" stroke="#A82438" stroke-width="0.55" font-size="7.2" text-anchor="start" textLength="13.02" lengthAdjust="spacingAndGlyphs" >N16</text>
<line x1="599.3" y1="108.0" x2="618.3" y2="108.0" stroke="#3c4444" stroke-width="1.4"/>
<text x="625.1" y="110.9" fill="#080600" stroke="#080600" stroke-width="0.3" font-size="8" text-anchor="start" textLength="7.20" lengthAdjust="spacingAndGlyphs" >17</text>
<text x="600.0" y="105.4" fill="#A82438" stroke="#A82438" stroke-width="0.55" font-size="7.2" text-anchor="start" textLength="13.02" lengthAdjust="spacingAndGlyphs" >N17</text>
<line x1="599.3" y1="117.6" x2="618.3" y2="117.6" stroke="#3c4444" stroke-width="1.4"/>
<text x="625.1" y="120.5" fill="#080600" stroke="#080600" stroke-width="0.3" font-size="8" text-anchor="start" textLength="7.20" lengthAdjust="spacingAndGlyphs" >18</text>
<text x="600.0" y="115.0" fill="#A82438" stroke="#A82438" stroke-width="0.55" font-size="7.2" text-anchor="start" textLength="13.02" lengthAdjust="spacingAndGlyphs" >N18</text>
<line x1="599.3" y1="127.2" x2="618.3" y2="127.2" stroke="#3c4444" stroke-width="1.4"/>
<text x="625.1" y="130.1" fill="#080600" stroke="#080600" stroke-width="0.3" font-size="8" text-anchor="start" textLength="7.20" lengthAdjust="spacingAndGlyphs" >19</text>
<text x="600.0" y="124.6" fill="#A82438" stroke="#A82438" stroke-width="0.55" font-size="7.2" text-anchor="start" textLength="13.02" lengthAdjust="spacingAndGlyphs" >N19</text>
<line x1="599.3" y1="136.8" x2="618.3" y2="136.8" stroke="#3c4444" stroke-width="1.4"/>
<text x="625.1" y="139.7" fill="#080600" stroke="#080600" stroke-width="0.3" font-size="8" text-anchor="start" textLength="7.20" lengthAdjust="spacingAndGlyphs" >20</text>
<text x="600.0" y="134.2" fill="#A82438" stroke="#A82438" stroke-width="0.55" font-size="7.2" text-anchor="start" textLength="13.02" lengthAdjust="spacingAndGlyphs" >N20</text>
<rect x="699.8" y="-10.0" width="28.2" height="154.6" fill="#FCFCAE" stroke="#B4705A" stroke-width="1.7"/>
<line x1="680.8" y1="-7.0" x2="699.8" y2="-7.0" stroke="#3c4444" stroke-width="1.4"/>
<text x="706.6" y="-4.1" fill="#080600" stroke="#080600" stroke-width="0.3" font-size="8" text-anchor="start" textLength="3.60" lengthAdjust="spacingAndGlyphs" >5</text>
<text x="681.5" y="-9.6" fill="#A82438" stroke="#A82438" stroke-width="0.55" font-size="7.2" text-anchor="start" textLength="13.02" lengthAdjust="spacingAndGlyphs" >N25</text>
<line x1="680.8" y1="2.6" x2="699.8" y2="2.6" stroke="#3c4444" stroke-width="1.4"/>
<text x="706.6" y="5.5" fill="#080600" stroke="#080600" stroke-width="0.3" font-size="8" text-anchor="start" textLength="3.60" lengthAdjust="spacingAndGlyphs" >6</text>
<text x="681.5" y="-0.0" fill="#A82438" stroke="#A82438" stroke-width="0.55" font-size="7.2" text-anchor="start" textLength="13.02" lengthAdjust="spacingAndGlyphs" >N26</text>
<line x1="680.8" y1="12.2" x2="699.8" y2="12.2" stroke="#3c4444" stroke-width="1.4"/>
<text x="706.6" y="15.1" fill="#080600" stroke="#080600" stroke-width="0.3" font-size="8" text-anchor="start" textLength="3.60" lengthAdjust="spacingAndGlyphs" >7</text>
<text x="681.5" y="9.6" fill="#A82438" stroke="#A82438" stroke-width="0.55" font-size="7.2" text-anchor="start" textLength="13.02" lengthAdjust="spacingAndGlyphs" >N27</text>
<line x1="680.8" y1="21.8" x2="699.8" y2="21.8" stroke="#3c4444" stroke-width="1.4"/>
<text x="706.6" y="24.7" fill="#080600" stroke="#080600" stroke-width="0.3" font-size="8" text-anchor="start" textLength="3.60" lengthAdjust="spacingAndGlyphs" >8</text>
<text x="681.5" y="19.2" fill="#A82438" stroke="#A82438" stroke-width="0.55" font-size="7.2" text-anchor="start" textLength="13.02" lengthAdjust="spacingAndGlyphs" >N28</text>
<line x1="680.8" y1="31.4" x2="699.8" y2="31.4" stroke="#3c4444" stroke-width="1.4"/>
<text x="706.6" y="34.3" fill="#080600" stroke="#080600" stroke-width="0.3" font-size="8" text-anchor="start" textLength="3.60" lengthAdjust="spacingAndGlyphs" >9</text>
<text x="681.5" y="28.8" fill="#A82438" stroke="#A82438" stroke-width="0.55" font-size="7.2" text-anchor="start" textLength="13.02" lengthAdjust="spacingAndGlyphs" >N29</text>
<line x1="680.8" y1="40.9" x2="699.8" y2="40.9" stroke="#3c4444" stroke-width="1.4"/>
<text x="706.6" y="43.8" fill="#080600" stroke="#080600" stroke-width="0.3" font-size="8" text-anchor="start" textLength="7.20" lengthAdjust="spacingAndGlyphs" >10</text>
<text x="681.5" y="38.3" fill="#A82438" stroke="#A82438" stroke-width="0.55" font-size="7.2" text-anchor="start" textLength="13.02" lengthAdjust="spacingAndGlyphs" >N30</text>
<line x1="680.8" y1="50.5" x2="699.8" y2="50.5" stroke="#3c4444" stroke-width="1.4"/>
<text x="706.6" y="53.4" fill="#080600" stroke="#080600" stroke-width="0.3" font-size="8" text-anchor="start" textLength="6.80" lengthAdjust="spacingAndGlyphs" >11</text>
<text x="681.5" y="47.9" fill="#A82438" stroke="#A82438" stroke-width="0.55" font-size="7.2" text-anchor="start" textLength="13.02" lengthAdjust="spacingAndGlyphs" >N31</text>
<line x1="680.8" y1="60.1" x2="699.8" y2="60.1" stroke="#3c4444" stroke-width="1.4"/>
<text x="706.6" y="63.0" fill="#080600" stroke="#080600" stroke-width="0.3" font-size="8" text-anchor="start" textLength="7.20" lengthAdjust="spacingAndGlyphs" >12</text>
<text x="681.5" y="57.5" fill="#A82438" stroke="#A82438" stroke-width="0.55" font-size="7.2" text-anchor="start" textLength="13.02" lengthAdjust="spacingAndGlyphs" >N32</text>
<line x1="680.8" y1="69.7" x2="699.8" y2="69.7" stroke="#3c4444" stroke-width="1.4"/>
<text x="706.6" y="72.6" fill="#080600" stroke="#080600" stroke-width="0.3" font-size="8" text-anchor="start" textLength="7.20" lengthAdjust="spacingAndGlyphs" >13</text>
<text x="681.5" y="67.1" fill="#A82438" stroke="#A82438" stroke-width="0.55" font-size="7.2" text-anchor="start" textLength="13.02" lengthAdjust="spacingAndGlyphs" >N33</text>
<line x1="680.8" y1="79.3" x2="699.8" y2="79.3" stroke="#3c4444" stroke-width="1.4"/>
<text x="706.6" y="82.2" fill="#080600" stroke="#080600" stroke-width="0.3" font-size="8" text-anchor="start" textLength="7.20" lengthAdjust="spacingAndGlyphs" >14</text>
<text x="681.5" y="76.7" fill="#A82438" stroke="#A82438" stroke-width="0.55" font-size="7.2" text-anchor="start" textLength="13.02" lengthAdjust="spacingAndGlyphs" >N34</text>
<line x1="680.8" y1="88.9" x2="699.8" y2="88.9" stroke="#3c4444" stroke-width="1.4"/>
<text x="706.6" y="91.8" fill="#080600" stroke="#080600" stroke-width="0.3" font-size="8" text-anchor="start" textLength="7.20" lengthAdjust="spacingAndGlyphs" >15</text>
<text x="681.5" y="86.3" fill="#A82438" stroke="#A82438" stroke-width="0.55" font-size="7.2" text-anchor="start" textLength="13.02" lengthAdjust="spacingAndGlyphs" >N35</text>
<line x1="680.8" y1="98.5" x2="699.8" y2="98.5" stroke="#3c4444" stroke-width="1.4"/>
<text x="706.6" y="101.4" fill="#080600" stroke="#080600" stroke-width="0.3" font-size="8" text-anchor="start" textLength="7.20" lengthAdjust="spacingAndGlyphs" >16</text>
<text x="681.5" y="95.9" fill="#A82438" stroke="#A82438" stroke-width="0.55" font-size="7.2" text-anchor="start" textLength="13.02" lengthAdjust="spacingAndGlyphs" >N36</text>
<line x1="680.8" y1="108.0" x2="699.8" y2="108.0" stroke="#3c4444" stroke-width="1.4"/>
<text x="706.6" y="110.9" fill="#080600" stroke="#080600" stroke-width="0.3" font-size="8" text-anchor="start" textLength="7.20" lengthAdjust="spacingAndGlyphs" >17</text>
<text x="681.5" y="105.4" fill="#A82438" stroke="#A82438" stroke-width="0.55" font-size="7.2" text-anchor="start" textLength="13.02" lengthAdjust="spacingAndGlyphs" >N37</text>
<line x1="680.8" y1="117.6" x2="699.8" y2="117.6" stroke="#3c4444" stroke-width="1.4"/>
<text x="706.6" y="120.5" fill="#080600" stroke="#080600" stroke-width="0.3" font-size="8" text-anchor="start" textLength="7.20" lengthAdjust="spacingAndGlyphs" >18</text>
<text x="681.5" y="115.0" fill="#A82438" stroke="#A82438" stroke-width="0.55" font-size="7.2" text-anchor="start" textLength="13.02" lengthAdjust="spacingAndGlyphs" >N38</text>
<line x1="680.8" y1="127.2" x2="699.8" y2="127.2" stroke="#3c4444" stroke-width="1.4"/>
<text x="706.6" y="130.1" fill="#080600" stroke="#080600" stroke-width="0.3" font-size="8" text-anchor="start" textLength="7.20" lengthAdjust="spacingAndGlyphs" >19</text>
<text x="681.5" y="124.6" fill="#A82438" stroke="#A82438" stroke-width="0.55" font-size="7.2" text-anchor="start" textLength="13.02" lengthAdjust="spacingAndGlyphs" >N39</text>
<line x1="680.8" y1="136.8" x2="699.8" y2="136.8" stroke="#3c4444" stroke-width="1.4"/>
<text x="706.6" y="139.7" fill="#080600" stroke="#080600" stroke-width="0.3" font-size="8" text-anchor="start" textLength="7.20" lengthAdjust="spacingAndGlyphs" >20</text>
<text x="681.5" y="134.2" fill="#A82438" stroke="#A82438" stroke-width="0.55" font-size="7.2" text-anchor="start" textLength="13.02" lengthAdjust="spacingAndGlyphs" >N40</text>
<rect x="73.3" y="126.7" width="37.9" height="56.6" fill="#FCFCAE" stroke="#B4705A" stroke-width="1.7"/>
<text x="73.5" y="124.5" fill="#1E1E9C" stroke="#1E1E9C" stroke-width="0.4" font-size="7.5" text-anchor="start" textLength="9.92" lengthAdjust="spacingAndGlyphs" >ISP</text>
<line x1="55.2" y1="136.6" x2="73.3" y2="136.6" stroke="#454545" stroke-width="1.4"/>
<line x1="111.2" y1="136.6" x2="131.0" y2="136.6" stroke="#454545" stroke-width="1.4"/>
<line x1="131.0" y1="136.6" x2="169.0" y2="136.6" stroke="#3428A8" stroke-width="1.5"/>
<text x="81.2" y="139.6" fill="#080600" stroke="#080600" stroke-width="0.3" font-size="8.2" text-anchor="middle" textLength="3.28" lengthAdjust="spacingAndGlyphs" >1</text>
<text x="102.5" y="139.6" fill="#080600" stroke="#080600" stroke-width="0.3" font-size="8.2" text-anchor="middle" textLength="3.28" lengthAdjust="spacingAndGlyphs" >2</text>
<line x1="55.2" y1="145.8" x2="73.3" y2="145.8" stroke="#454545" stroke-width="1.4"/>
<line x1="111.2" y1="145.8" x2="131.0" y2="145.8" stroke="#454545" stroke-width="1.4"/>
<line x1="131.0" y1="145.8" x2="169.0" y2="145.8" stroke="#3428A8" stroke-width="1.5"/>
<text x="81.2" y="148.8" fill="#080600" stroke="#080600" stroke-width="0.3" font-size="8.2" text-anchor="middle" textLength="3.28" lengthAdjust="spacingAndGlyphs" >3</text>
<text x="102.5" y="148.8" fill="#080600" stroke="#080600" stroke-width="0.3" font-size="8.2" text-anchor="middle" textLength="3.28" lengthAdjust="spacingAndGlyphs" >4</text>
<line x1="55.2" y1="155.4" x2="73.3" y2="155.4" stroke="#454545" stroke-width="1.4"/>
<line x1="111.2" y1="155.4" x2="131.0" y2="155.4" stroke="#454545" stroke-width="1.4"/>
<line x1="131.0" y1="155.4" x2="169.0" y2="155.4" stroke="#3428A8" stroke-width="1.5"/>
<text x="81.2" y="158.4" fill="#080600" stroke="#080600" stroke-width="0.3" font-size="8.2" text-anchor="middle" textLength="3.28" lengthAdjust="spacingAndGlyphs" >5</text>
<text x="102.5" y="158.4" fill="#080600" stroke="#080600" stroke-width="0.3" font-size="8.2" text-anchor="middle" textLength="3.28" lengthAdjust="spacingAndGlyphs" >6</text>
<line x1="55.2" y1="164.7" x2="73.3" y2="164.7" stroke="#454545" stroke-width="1.4"/>
<line x1="111.2" y1="164.7" x2="131.0" y2="164.7" stroke="#454545" stroke-width="1.4"/>
<line x1="131.0" y1="164.7" x2="169.0" y2="164.7" stroke="#3428A8" stroke-width="1.5"/>
<text x="81.2" y="167.7" fill="#080600" stroke="#080600" stroke-width="0.3" font-size="8.2" text-anchor="middle" textLength="3.28" lengthAdjust="spacingAndGlyphs" >7</text>
<text x="102.5" y="167.7" fill="#080600" stroke="#080600" stroke-width="0.3" font-size="8.2" text-anchor="middle" textLength="3.28" lengthAdjust="spacingAndGlyphs" >8</text>
<line x1="55.2" y1="174.5" x2="73.3" y2="174.5" stroke="#454545" stroke-width="1.4"/>
<line x1="111.2" y1="174.5" x2="131.0" y2="174.5" stroke="#454545" stroke-width="1.4"/>
<line x1="131.0" y1="174.5" x2="169.0" y2="174.5" stroke="#3428A8" stroke-width="1.5"/>
<text x="81.2" y="177.5" fill="#080600" stroke="#080600" stroke-width="0.3" font-size="8.2" text-anchor="middle" textLength="3.28" lengthAdjust="spacingAndGlyphs" >9</text>
<text x="100.5" y="177.5" fill="#080600" stroke="#080600" stroke-width="0.3" font-size="8.2" text-anchor="middle" textLength="6.56" lengthAdjust="spacingAndGlyphs" >10</text>
<line x1="0.0" y1="136.6" x2="55.2" y2="136.6" stroke="#3428A8" stroke-width="1.5"/>
<text x="-4.5" y="134.6" fill="#A82438" stroke="#A82438" stroke-width="0.75" style="font-weight:normal" font-size="8.3" text-anchor="start" textLength="38.42" lengthAdjust="spacingAndGlyphs">ISP_MOSI</text>
<line x1="0.0" y1="155.4" x2="55.2" y2="155.4" stroke="#3428A8" stroke-width="1.5"/>
<text x="-4.5" y="153.4" fill="#A82438" stroke="#A82438" stroke-width="0.75" style="font-weight:normal" font-size="8.3" text-anchor="start" textLength="43.40" lengthAdjust="spacingAndGlyphs">ISP_RESET</text>
<line x1="0.0" y1="164.7" x2="55.2" y2="164.7" stroke="#3428A8" stroke-width="1.5"/>
<text x="-4.5" y="162.7" fill="#A82438" stroke="#A82438" stroke-width="0.75" style="font-weight:normal" font-size="8.3" text-anchor="start" textLength="33.45" lengthAdjust="spacingAndGlyphs">ISP_SCK</text>
<line x1="0.0" y1="174.5" x2="55.2" y2="174.5" stroke="#3428A8" stroke-width="1.5"/>
<text x="-4.5" y="172.5" fill="#A82438" stroke="#A82438" stroke-width="0.75" style="font-weight:normal" font-size="8.3" text-anchor="start" textLength="38.42" lengthAdjust="spacingAndGlyphs">ISP_MISO</text>
<text x="140.0" y="133.4" fill="#A82438" stroke="#A82438" stroke-width="0.75" style="font-weight:normal" font-size="8" text-anchor="start" textLength="15.25" lengthAdjust="spacingAndGlyphs">VCC</text>
<text x="140.0" y="142.9" fill="#A82438" stroke="#A82438" stroke-width="0.75" style="font-weight:normal" font-size="8" text-anchor="start" textLength="15.64" lengthAdjust="spacingAndGlyphs">GND</text>
<text x="140.0" y="152.5" fill="#A82438" stroke="#A82438" stroke-width="0.75" style="font-weight:normal" font-size="8" text-anchor="start" textLength="15.64" lengthAdjust="spacingAndGlyphs">GND</text>
<text x="140.0" y="161.8" fill="#A82438" stroke="#A82438" stroke-width="0.75" style="font-weight:normal" font-size="8" text-anchor="start" textLength="15.64" lengthAdjust="spacingAndGlyphs">GND</text>
<text x="140.0" y="171.6" fill="#A82438" stroke="#A82438" stroke-width="0.75" style="font-weight:normal" font-size="8" text-anchor="start" textLength="15.64" lengthAdjust="spacingAndGlyphs">GND</text>
<text x="132.0" y="213.5" fill="#A82438" stroke="#A82438" stroke-width="0.75" style="font-weight:normal" font-size="8" text-anchor="start" textLength="14.73" lengthAdjust="spacingAndGlyphs">VCC</text>
<line x1="134.5" y1="217.5" x2="146.0" y2="217.5" stroke="#9A3030" stroke-width="1.4"/>
<line x1="140.3" y1="217.5" x2="140.3" y2="227.0" stroke="#454545" stroke-width="1.3"/>
<line x1="54.5" y1="227.0" x2="140.3" y2="227.0" stroke="#3428A8" stroke-width="1.5"/>
<line x1="54.5" y1="227.0" x2="54.5" y2="255.2" stroke="#4a44a0" stroke-width="1.4"/>
<rect x="51.1" y="255.2" width="5.8" height="19.2" fill="none" stroke="#3428A8" stroke-width="1.7"/>
<line x1="54.5" y1="274.4" x2="54.5" y2="304.0" stroke="#454545" stroke-width="1.3"/>
<circle cx="54.5" cy="305.3" r="1.7" fill="#FFFCF6" stroke="#3428A8" stroke-width="1.1"/>
<circle cx="54.5" cy="320.2" r="1.7" fill="#FFFCF6" stroke="#3428A8" stroke-width="1.1"/>
<line x1="46.0" y1="304.5" x2="54.2" y2="318.5" stroke="#3428A8" stroke-width="1.3"/>
<text x="57.0" y="262.0" fill="#1E1E9C" stroke="#1E1E9C" stroke-width="0.4" font-size="7.9" text-anchor="start" textLength="9.17" lengthAdjust="spacingAndGlyphs" >R1</text>
<text x="57.0" y="271.8" fill="#1E1E9C" stroke="#1E1E9C" stroke-width="0.4" font-size="7.9" text-anchor="start" textLength="13.34" lengthAdjust="spacingAndGlyphs" >10K</text>
<text x="58.5" y="328.5" fill="#1E1E9C" stroke="#1E1E9C" stroke-width="0.4" font-size="7.9" text-anchor="start" textLength="7.50" lengthAdjust="spacingAndGlyphs" >J1</text>
<circle cx="82.6" cy="227.0" r="2.1" fill="#3428A8"/>
<line x1="82.6" y1="227.0" x2="82.6" y2="255.2" stroke="#4a44a0" stroke-width="1.4"/>
<rect x="79.2" y="255.2" width="5.8" height="19.2" fill="none" stroke="#3428A8" stroke-width="1.7"/>
<line x1="82.6" y1="274.4" x2="82.6" y2="304.0" stroke="#454545" stroke-width="1.3"/>
<circle cx="82.6" cy="305.3" r="1.7" fill="#FFFCF6" stroke="#3428A8" stroke-width="1.1"/>
<circle cx="82.6" cy="320.2" r="1.7" fill="#FFFCF6" stroke="#3428A8" stroke-width="1.1"/>
<line x1="74.1" y1="304.5" x2="82.3" y2="318.5" stroke="#3428A8" stroke-width="1.3"/>
<text x="85.1" y="262.0" fill="#1E1E9C" stroke="#1E1E9C" stroke-width="0.4" font-size="7.9" text-anchor="start" textLength="9.17" lengthAdjust="spacingAndGlyphs" >R2</text>
<text x="85.1" y="271.8" fill="#1E1E9C" stroke="#1E1E9C" stroke-width="0.4" font-size="7.9" text-anchor="start" textLength="13.34" lengthAdjust="spacingAndGlyphs" >10K</text>
<text x="86.6" y="328.5" fill="#1E1E9C" stroke="#1E1E9C" stroke-width="0.4" font-size="7.9" text-anchor="start" textLength="7.50" lengthAdjust="spacingAndGlyphs" >J2</text>
<circle cx="111.2" cy="227.0" r="2.1" fill="#3428A8"/>
<line x1="111.2" y1="227.0" x2="111.2" y2="255.2" stroke="#4a44a0" stroke-width="1.4"/>
<rect x="107.8" y="255.2" width="5.8" height="19.2" fill="none" stroke="#3428A8" stroke-width="1.7"/>
<line x1="111.2" y1="274.4" x2="111.2" y2="304.0" stroke="#454545" stroke-width="1.3"/>
<circle cx="111.2" cy="305.3" r="1.7" fill="#FFFCF6" stroke="#3428A8" stroke-width="1.1"/>
<circle cx="111.2" cy="320.2" r="1.7" fill="#FFFCF6" stroke="#3428A8" stroke-width="1.1"/>
<line x1="102.7" y1="304.5" x2="110.9" y2="318.5" stroke="#3428A8" stroke-width="1.3"/>
<text x="113.7" y="262.0" fill="#1E1E9C" stroke="#1E1E9C" stroke-width="0.4" font-size="7.9" text-anchor="start" textLength="9.17" lengthAdjust="spacingAndGlyphs" >R3</text>
<text x="113.7" y="271.8" fill="#1E1E9C" stroke="#1E1E9C" stroke-width="0.4" font-size="7.9" text-anchor="start" textLength="13.34" lengthAdjust="spacingAndGlyphs" >10K</text>
<text x="115.2" y="328.5" fill="#1E1E9C" stroke="#1E1E9C" stroke-width="0.4" font-size="7.9" text-anchor="start" textLength="7.50" lengthAdjust="spacingAndGlyphs" >J3</text>
<circle cx="140.3" cy="227.0" r="2.1" fill="#3428A8"/>
<line x1="140.3" y1="227.0" x2="140.3" y2="255.2" stroke="#4a44a0" stroke-width="1.4"/>
<rect x="136.9" y="255.2" width="5.8" height="19.2" fill="none" stroke="#3428A8" stroke-width="1.7"/>
<line x1="140.3" y1="274.4" x2="140.3" y2="304.0" stroke="#454545" stroke-width="1.3"/>
<circle cx="140.3" cy="305.3" r="1.7" fill="#FFFCF6" stroke="#3428A8" stroke-width="1.1"/>
<circle cx="140.3" cy="320.2" r="1.7" fill="#FFFCF6" stroke="#3428A8" stroke-width="1.1"/>
<line x1="131.8" y1="304.5" x2="140.0" y2="318.5" stroke="#3428A8" stroke-width="1.3"/>
<text x="142.8" y="262.0" fill="#1E1E9C" stroke="#1E1E9C" stroke-width="0.4" font-size="7.9" text-anchor="start" textLength="9.17" lengthAdjust="spacingAndGlyphs" >R4</text>
<text x="142.8" y="271.8" fill="#1E1E9C" stroke="#1E1E9C" stroke-width="0.4" font-size="7.9" text-anchor="start" textLength="13.34" lengthAdjust="spacingAndGlyphs" >10K</text>
<text x="144.3" y="328.5" fill="#1E1E9C" stroke="#1E1E9C" stroke-width="0.4" font-size="7.9" text-anchor="start" textLength="7.50" lengthAdjust="spacingAndGlyphs" >J4</text>
<line x1="54.5" y1="322.0" x2="54.5" y2="369.7" stroke="#4a44a0" stroke-width="1.4"/>
<circle cx="54.5" cy="369.7" r="2.1" fill="#3428A8"/>
<line x1="82.6" y1="322.0" x2="82.6" y2="380.0" stroke="#4a44a0" stroke-width="1.4"/>
<circle cx="82.6" cy="380.0" r="2.1" fill="#3428A8"/>
<line x1="111.2" y1="322.0" x2="111.2" y2="389.3" stroke="#4a44a0" stroke-width="1.4"/>
<circle cx="111.2" cy="389.3" r="2.1" fill="#3428A8"/>
<line x1="140.3" y1="322.0" x2="140.3" y2="408.5" stroke="#4a44a0" stroke-width="1.4"/>
<circle cx="140.3" cy="408.5" r="2.1" fill="#3428A8"/>
<line x1="7.0" y1="370.2" x2="158.6" y2="370.2" stroke="#3428A8" stroke-width="1.5"/>
<text x="7.5" y="367.6" fill="#A82438" stroke="#A82438" stroke-width="0.75" style="font-weight:normal" font-size="8" text-anchor="start" textLength="37.03" lengthAdjust="spacingAndGlyphs">JTAG_TCK</text>
<line x1="7.0" y1="380.1" x2="158.6" y2="380.1" stroke="#3428A8" stroke-width="1.5"/>
<text x="7.5" y="377.5" fill="#A82438" stroke="#A82438" stroke-width="0.75" style="font-weight:normal" font-size="8" text-anchor="start" textLength="37.03" lengthAdjust="spacingAndGlyphs">JTAG_TDO</text>
<line x1="7.0" y1="389.2" x2="158.6" y2="389.2" stroke="#3428A8" stroke-width="1.5"/>
<text x="7.5" y="386.6" fill="#A82438" stroke="#A82438" stroke-width="0.75" style="font-weight:normal" font-size="8" text-anchor="start" textLength="37.03" lengthAdjust="spacingAndGlyphs">JTAG_TMS</text>
<line x1="7.0" y1="408.5" x2="158.6" y2="408.5" stroke="#3428A8" stroke-width="1.5"/>
<text x="7.5" y="405.9" fill="#A82438" stroke="#A82438" stroke-width="0.75" style="font-weight:normal" font-size="8" text-anchor="start" textLength="34.29" lengthAdjust="spacingAndGlyphs">JTAG_TDI</text>
<rect x="178.8" y="361.5" width="37.6" height="55.3" fill="#FCFCAE" stroke="#B4705A" stroke-width="1.7"/>
<text x="179.0" y="357.0" fill="#1E1E9C" stroke="#1E1E9C" stroke-width="0.4" font-size="7.9" text-anchor="start" textLength="19.46" lengthAdjust="spacingAndGlyphs" >JTAG</text>
<line x1="158.6" y1="370.2" x2="178.8" y2="370.2" stroke="#454545" stroke-width="1.4"/>
<line x1="216.4" y1="370.2" x2="234.0" y2="370.2" stroke="#454545" stroke-width="1.4"/>
<line x1="234.0" y1="370.2" x2="283.0" y2="370.2" stroke="#3428A8" stroke-width="1.5"/>
<text x="186.5" y="373.2" fill="#080600" stroke="#080600" stroke-width="0.3" font-size="8.2" text-anchor="middle" textLength="3.28" lengthAdjust="spacingAndGlyphs" >1</text>
<text x="207.0" y="373.2" fill="#080600" stroke="#080600" stroke-width="0.3" font-size="8.2" text-anchor="middle" textLength="3.28" lengthAdjust="spacingAndGlyphs" >2</text>
<line x1="158.6" y1="380.1" x2="178.8" y2="380.1" stroke="#454545" stroke-width="1.4"/>
<line x1="216.4" y1="380.1" x2="234.0" y2="380.1" stroke="#454545" stroke-width="1.4"/>
<line x1="234.0" y1="380.1" x2="283.0" y2="380.1" stroke="#3428A8" stroke-width="1.5"/>
<text x="186.5" y="383.1" fill="#080600" stroke="#080600" stroke-width="0.3" font-size="8.2" text-anchor="middle" textLength="3.28" lengthAdjust="spacingAndGlyphs" >3</text>
<text x="207.0" y="383.1" fill="#080600" stroke="#080600" stroke-width="0.3" font-size="8.2" text-anchor="middle" textLength="3.28" lengthAdjust="spacingAndGlyphs" >4</text>
<line x1="158.6" y1="389.2" x2="178.8" y2="389.2" stroke="#454545" stroke-width="1.4"/>
<line x1="216.4" y1="389.2" x2="234.0" y2="389.2" stroke="#454545" stroke-width="1.4"/>
<line x1="234.0" y1="389.2" x2="283.0" y2="389.2" stroke="#3428A8" stroke-width="1.5"/>
<text x="186.5" y="392.2" fill="#080600" stroke="#080600" stroke-width="0.3" font-size="8.2" text-anchor="middle" textLength="3.28" lengthAdjust="spacingAndGlyphs" >5</text>
<text x="207.0" y="392.2" fill="#080600" stroke="#080600" stroke-width="0.3" font-size="8.2" text-anchor="middle" textLength="3.28" lengthAdjust="spacingAndGlyphs" >6</text>
<line x1="158.6" y1="398.8" x2="178.8" y2="398.8" stroke="#454545" stroke-width="1.4"/>
<line x1="216.4" y1="398.8" x2="234.0" y2="398.8" stroke="#454545" stroke-width="1.4"/>
<text x="186.5" y="401.8" fill="#080600" stroke="#080600" stroke-width="0.3" font-size="8.2" text-anchor="middle" textLength="3.28" lengthAdjust="spacingAndGlyphs" >7</text>
<text x="207.0" y="401.8" fill="#080600" stroke="#080600" stroke-width="0.3" font-size="8.2" text-anchor="middle" textLength="3.28" lengthAdjust="spacingAndGlyphs" >8</text>
<line x1="158.6" y1="408.5" x2="178.8" y2="408.5" stroke="#454545" stroke-width="1.4"/>
<line x1="216.4" y1="408.5" x2="234.0" y2="408.5" stroke="#454545" stroke-width="1.4"/>
<line x1="234.0" y1="408.5" x2="283.0" y2="408.5" stroke="#3428A8" stroke-width="1.5"/>
<text x="186.5" y="411.5" fill="#080600" stroke="#080600" stroke-width="0.3" font-size="8.2" text-anchor="middle" textLength="3.28" lengthAdjust="spacingAndGlyphs" >9</text>
<text x="205.0" y="411.5" fill="#080600" stroke="#080600" stroke-width="0.3" font-size="8.2" text-anchor="middle" textLength="6.56" lengthAdjust="spacingAndGlyphs" >10</text>
<line x1="159.0" y1="398.8" x2="170.0" y2="398.8" stroke="#3428A8" stroke-width="1.5"/>
<text x="159.5" y="396.0" fill="#A82438" stroke="#A82438" stroke-width="0.75" style="font-weight:normal" font-size="8" text-anchor="start" textLength="15.25" lengthAdjust="spacingAndGlyphs">VCC</text>
<text x="264.5" y="367.5" fill="#A82438" stroke="#A82438" stroke-width="0.75" style="font-weight:normal" font-size="8" text-anchor="start" textLength="15.64" lengthAdjust="spacingAndGlyphs">GND</text>
<text x="266.0" y="377.0" fill="#A82438" stroke="#A82438" stroke-width="0.75" style="font-weight:normal" font-size="8" text-anchor="start" textLength="15.25" lengthAdjust="spacingAndGlyphs">VCC</text>
<text x="241.0" y="386.0" fill="#A82438" stroke="#A82438" stroke-width="0.75" style="font-weight:normal" font-size="8" text-anchor="start" textLength="35.47" lengthAdjust="spacingAndGlyphs">JTAG_RST</text>
<text x="264.5" y="405.5" fill="#A82438" stroke="#A82438" stroke-width="0.75" style="font-weight:normal" font-size="8" text-anchor="start" textLength="15.64" lengthAdjust="spacingAndGlyphs">GND</text>
<text x="241.2" y="291.2" fill="#A82438" stroke="#A82438" stroke-width="0.75" style="font-weight:normal" font-size="7.8" text-anchor="start" textLength="21.24" lengthAdjust="spacingAndGlyphs">XTAL1</text>
<text x="241.2" y="338.8" fill="#A82438" stroke="#A82438" stroke-width="0.75" style="font-weight:normal" font-size="7.8" text-anchor="start" textLength="21.24" lengthAdjust="spacingAndGlyphs">XTAL2</text>
<line x1="241.0" y1="293.3" x2="319.8" y2="293.3" stroke="#3428A8" stroke-width="1.5"/>
<line x1="325.0" y1="293.3" x2="355.2" y2="293.3" stroke="#3428A8" stroke-width="1.5"/>
<line x1="241.0" y1="341.0" x2="319.8" y2="341.0" stroke="#3428A8" stroke-width="1.5"/>
<line x1="325.0" y1="341.0" x2="355.2" y2="341.0" stroke="#3428A8" stroke-width="1.5"/>
<line x1="319.8" y1="288.0" x2="319.8" y2="299.0" stroke="#3428A8" stroke-width="1.7"/>
<line x1="325.0" y1="288.0" x2="325.0" y2="299.0" stroke="#3428A8" stroke-width="1.7"/>
<line x1="319.8" y1="335.7" x2="319.8" y2="346.7" stroke="#3428A8" stroke-width="1.7"/>
<line x1="325.0" y1="335.7" x2="325.0" y2="346.7" stroke="#3428A8" stroke-width="1.7"/>
<circle cx="283.3" cy="293.3" r="2.1" fill="#3428A8"/>
<circle cx="283.3" cy="341.0" r="2.1" fill="#3428A8"/>
<line x1="283.3" y1="293.3" x2="283.3" y2="311.5" stroke="#4a4a70" stroke-width="1.3"/>
<line x1="283.3" y1="322.5" x2="283.3" y2="341.0" stroke="#4a4a70" stroke-width="1.3"/>
<rect x="277.5" y="314" width="11.5" height="6" rx="2" fill="none" stroke="#3428A8" stroke-width="1.6"/>
<line x1="278.5" y1="311.8" x2="288.0" y2="311.8" stroke="#3428A8" stroke-width="1.4"/>
<line x1="278.5" y1="322.2" x2="288.0" y2="322.2" stroke="#3428A8" stroke-width="1.4"/>
<text x="279.5" y="302.8" fill="#141008" stroke="#141008" stroke-width="0.2" font-size="7.5" text-anchor="middle" transform="rotate(-90 279.5 302.8)">2</text>
<text x="279.5" y="332.5" fill="#141008" stroke="#141008" stroke-width="0.2" font-size="7.5" text-anchor="middle" transform="rotate(-90 279.5 332.5)">1</text>
<text x="290.5" y="320.0" fill="#1E1E9C" stroke="#1E1E9C" stroke-width="0.4" font-size="7.9" text-anchor="start" textLength="9.17" lengthAdjust="spacingAndGlyphs" >Y1</text>
<text x="291.0" y="329.5" fill="#1E1E9C" stroke="#1E1E9C" stroke-width="0.4" font-size="7.9" text-anchor="start" textLength="20.30" lengthAdjust="spacingAndGlyphs" >XTAL</text>
<text x="316.5" y="283.0" fill="#1E1E9C" stroke="#1E1E9C" stroke-width="0.4" font-size="7.9" text-anchor="start" textLength="9.17" lengthAdjust="spacingAndGlyphs" >C4</text>
<text x="316.5" y="312.0" fill="#1E1E9C" stroke="#1E1E9C" stroke-width="0.4" font-size="7.9" text-anchor="start" textLength="16.26" lengthAdjust="spacingAndGlyphs" >22pF</text>
<text x="316.8" y="331.5" fill="#1E1E9C" stroke="#1E1E9C" stroke-width="0.4" font-size="7.9" text-anchor="start" textLength="9.17" lengthAdjust="spacingAndGlyphs" >C3</text>
<text x="316.5" y="358.0" fill="#1E1E9C" stroke="#1E1E9C" stroke-width="0.4" font-size="7.9" text-anchor="start" textLength="16.26" lengthAdjust="spacingAndGlyphs" >22pF</text>
<line x1="355.2" y1="293.3" x2="355.2" y2="341.0" stroke="#3428A8" stroke-width="1.5"/>
<circle cx="355.2" cy="317.0" r="2.1" fill="#3428A8"/>
<polyline points="355.2,317.0 380.6,317.0 380.6,340.3" fill="none" stroke="#3428A8" stroke-width="1.5"/>
<line x1="371.1" y1="340.3" x2="390.1" y2="340.3" stroke="#9A3030" stroke-width="1.5"/>
<line x1="374.1" y1="343.3" x2="387.1" y2="343.3" stroke="#9A3030" stroke-width="1.5"/>
<line x1="376.6" y1="346.3" x2="384.6" y2="346.3" stroke="#9A3030" stroke-width="1.5"/>
<line x1="379.1" y1="349.3" x2="382.1" y2="349.3" stroke="#9A3030" stroke-width="1.3"/>
<line x1="493.5" y1="193.0" x2="504.0" y2="193.0" stroke="#454545" stroke-width="1.4"/>
<path d="M504,193 a4.6,4 0 0 1 9.2,0 a4.6,4 0 0 1 9.2,0 a4.6,4 0 0 1 9.2,0 a4.6,4 0 0 1 9.2,0" fill="none" stroke="#3428A8" stroke-width="1.5"/>
<polyline points="540.8,193.0 551.5,193.0 551.5,215.0" fill="none" stroke="#454545" stroke-width="1.4"/>
<circle cx="551.5" cy="203.2" r="2.1" fill="#3428A8"/>
<line x1="543.5" y1="215.3" x2="558.5" y2="215.3" stroke="#3428A8" stroke-width="1.8"/>
<line x1="543.5" y1="219.3" x2="558.5" y2="219.3" stroke="#3428A8" stroke-width="1.8"/>
<line x1="551.5" y1="219.3" x2="551.5" y2="241.0" stroke="#454545" stroke-width="1.4"/>
<line x1="542.0" y1="241.0" x2="561.0" y2="241.0" stroke="#9A3030" stroke-width="1.5"/>
<line x1="545.0" y1="244.0" x2="558.0" y2="244.0" stroke="#9A3030" stroke-width="1.5"/>
<line x1="547.5" y1="247.0" x2="555.5" y2="247.0" stroke="#9A3030" stroke-width="1.5"/>
<line x1="550.0" y1="250.0" x2="553.0" y2="250.0" stroke="#9A3030" stroke-width="1.3"/>
<text x="504.0" y="187.0" fill="#1E1E9C" stroke="#1E1E9C" stroke-width="0.4" font-size="7.9" text-anchor="start" textLength="8.76" lengthAdjust="spacingAndGlyphs" >L1</text>
<text x="522.0" y="187.0" fill="#1E1E9C" stroke="#1E1E9C" stroke-width="0.4" font-size="7.9" text-anchor="start" textLength="17.52" lengthAdjust="spacingAndGlyphs" >10uH</text>
<text x="559.0" y="220.0" fill="#1E1E9C" stroke="#1E1E9C" stroke-width="0.4" font-size="7.9" text-anchor="start" textLength="9.17" lengthAdjust="spacingAndGlyphs" >C2</text>
<text x="559.0" y="238.5" fill="#1E1E9C" stroke="#1E1E9C" stroke-width="0.4" font-size="7.9" text-anchor="start" textLength="11.26" lengthAdjust="spacingAndGlyphs" >104</text>
<text x="412.0" y="354.2" fill="#1E1E9C" stroke="#1E1E9C" stroke-width="0.4" font-size="7.9" text-anchor="start" textLength="20.85" lengthAdjust="spacingAndGlyphs" >RS232</text>
<path d="M412.7,448 L412.7,366 Q413,362 418.5,360.5 L437,356.5 Q442.8,356 442.8,361" fill="none" stroke="#3428A8" stroke-width="1.4"/>
<line x1="442.8" y1="360.0" x2="442.8" y2="448.0" stroke="#3428A8" stroke-width="1.5"/>
<circle cx="431.6" cy="364.6" r="2" fill="none" stroke="#3428A8" stroke-width="1.2"/>
<line x1="433.6" y1="364.6" x2="458.0" y2="364.6" stroke="#454545" stroke-width="1.3"/>
<text x="449.5" y="363.2" fill="#080600" stroke="#080600" stroke-width="0.3" font-size="7.8" text-anchor="middle" textLength="3.12" lengthAdjust="spacingAndGlyphs" >1</text>
<circle cx="422.2" cy="374.5" r="2" fill="none" stroke="#3428A8" stroke-width="1.2"/>
<line x1="424.2" y1="374.5" x2="458.0" y2="374.5" stroke="#454545" stroke-width="1.3"/>
<text x="449.5" y="373.1" fill="#080600" stroke="#080600" stroke-width="0.3" font-size="7.8" text-anchor="middle" textLength="3.12" lengthAdjust="spacingAndGlyphs" >6</text>
<circle cx="431.6" cy="384.4" r="2" fill="none" stroke="#3428A8" stroke-width="1.2"/>
<line x1="433.6" y1="384.4" x2="458.0" y2="384.4" stroke="#454545" stroke-width="1.3"/>
<text x="449.5" y="383.0" fill="#080600" stroke="#080600" stroke-width="0.3" font-size="7.8" text-anchor="middle" textLength="3.12" lengthAdjust="spacingAndGlyphs" >2</text>
<circle cx="422.2" cy="393.4" r="2" fill="none" stroke="#3428A8" stroke-width="1.2"/>
<line x1="424.2" y1="393.4" x2="458.0" y2="393.4" stroke="#454545" stroke-width="1.3"/>
<text x="449.5" y="392.0" fill="#080600" stroke="#080600" stroke-width="0.3" font-size="7.8" text-anchor="middle" textLength="3.12" lengthAdjust="spacingAndGlyphs" >7</text>
<circle cx="431.6" cy="403.6" r="2" fill="none" stroke="#3428A8" stroke-width="1.2"/>
<line x1="433.6" y1="403.6" x2="458.0" y2="403.6" stroke="#454545" stroke-width="1.3"/>
<text x="449.5" y="402.2" fill="#080600" stroke="#080600" stroke-width="0.3" font-size="7.8" text-anchor="middle" textLength="3.12" lengthAdjust="spacingAndGlyphs" >3</text>
<circle cx="422.2" cy="412.6" r="2" fill="none" stroke="#3428A8" stroke-width="1.2"/>
<line x1="424.2" y1="412.6" x2="458.0" y2="412.6" stroke="#454545" stroke-width="1.3"/>
<text x="449.5" y="411.2" fill="#080600" stroke="#080600" stroke-width="0.3" font-size="7.8" text-anchor="middle" textLength="3.12" lengthAdjust="spacingAndGlyphs" >8</text>
<circle cx="431.6" cy="422.2" r="2" fill="none" stroke="#3428A8" stroke-width="1.2"/>
<line x1="433.6" y1="422.2" x2="458.0" y2="422.2" stroke="#454545" stroke-width="1.3"/>
<text x="449.5" y="420.8" fill="#080600" stroke="#080600" stroke-width="0.3" font-size="7.8" text-anchor="middle" textLength="3.12" lengthAdjust="spacingAndGlyphs" >4</text>
<circle cx="422.2" cy="432.2" r="2" fill="none" stroke="#3428A8" stroke-width="1.2"/>
<line x1="424.2" y1="432.2" x2="458.0" y2="432.2" stroke="#454545" stroke-width="1.3"/>
<text x="449.5" y="430.8" fill="#080600" stroke="#080600" stroke-width="0.3" font-size="7.8" text-anchor="middle" textLength="3.12" lengthAdjust="spacingAndGlyphs" >9</text>
<circle cx="431.6" cy="441.3" r="2" fill="none" stroke="#3428A8" stroke-width="1.2"/>
<line x1="433.6" y1="441.3" x2="458.0" y2="441.3" stroke="#454545" stroke-width="1.3"/>
<text x="449.5" y="439.9" fill="#080600" stroke="#080600" stroke-width="0.3" font-size="7.8" text-anchor="middle" textLength="3.12" lengthAdjust="spacingAndGlyphs" >5</text>
<line x1="458.0" y1="384.4" x2="523.0" y2="384.4" stroke="#3428A8" stroke-width="1.5"/>
<text x="476.5" y="382.0" fill="#A82438" stroke="#A82438" stroke-width="0.75" style="font-weight:normal" font-size="7.5" text-anchor="start" textLength="29.99" lengthAdjust="spacingAndGlyphs">TO_TP1_1</text>
<line x1="458.0" y1="403.6" x2="523.0" y2="403.6" stroke="#3428A8" stroke-width="1.5"/>
<text x="476.5" y="401.2" fill="#A82438" stroke="#A82438" stroke-width="0.75" style="font-weight:normal" font-size="7.5" text-anchor="start" textLength="29.99" lengthAdjust="spacingAndGlyphs">TO_TP1_2</text>
<line x1="458.0" y1="441.3" x2="523.0" y2="441.3" stroke="#3428A8" stroke-width="1.5"/>
<text x="476.5" y="438.9" fill="#A82438" stroke="#A82438" stroke-width="0.75" style="font-weight:normal" font-size="7.5" text-anchor="start" textLength="29.99" lengthAdjust="spacingAndGlyphs">TO_TP1_3</text>
<rect x="480.6" y="299.0" width="27.0" height="37.6" fill="#FCFCAE" stroke="#B4705A" stroke-width="1.7"/>
<text x="481.0" y="296.0" fill="#1E1E9C" stroke="#1E1E9C" stroke-width="0.4" font-size="7.9" text-anchor="start" textLength="13.34" lengthAdjust="spacingAndGlyphs" >TP1</text>
<line x1="507.6" y1="308.8" x2="526.6" y2="308.8" stroke="#454545" stroke-width="1.4"/>
<text x="499.5" y="311.8" fill="#080600" stroke="#080600" stroke-width="0.3" font-size="8.2" text-anchor="middle" textLength="3.28" lengthAdjust="spacingAndGlyphs" >1</text>
<line x1="507.6" y1="317.6" x2="526.6" y2="317.6" stroke="#454545" stroke-width="1.4"/>
<text x="499.5" y="320.6" fill="#080600" stroke="#080600" stroke-width="0.3" font-size="8.2" text-anchor="middle" textLength="3.28" lengthAdjust="spacingAndGlyphs" >2</text>
<line x1="507.6" y1="327.4" x2="526.6" y2="327.4" stroke="#454545" stroke-width="1.4"/>
<text x="499.5" y="330.4" fill="#080600" stroke="#080600" stroke-width="0.3" font-size="8.2" text-anchor="middle" textLength="3.28" lengthAdjust="spacingAndGlyphs" >3</text>
<polyline points="526.6,308.8 599.2,308.8 599.2,289.6 632.1,289.6" fill="none" stroke="#3428A8" stroke-width="1.5"/>
<polyline points="526.6,317.6 599.2,317.6 599.2,384.4 685.3,384.4 685.3,337.3" fill="none" stroke="#3428A8" stroke-width="1.5"/>
<line x1="526.6" y1="327.4" x2="555.0" y2="327.4" stroke="#3428A8" stroke-width="1.5"/>
<text x="512.5" y="306.0" fill="#A82438" stroke="#A82438" stroke-width="0.75" style="font-weight:normal" font-size="7.5" text-anchor="start" textLength="9.38" lengthAdjust="spacingAndGlyphs">TX</text>
<text x="512.5" y="315.0" fill="#A82438" stroke="#A82438" stroke-width="0.75" style="font-weight:normal" font-size="7.5" text-anchor="start" textLength="9.75" lengthAdjust="spacingAndGlyphs">RX</text>
<text x="536.0" y="324.5" fill="#A82438" stroke="#A82438" stroke-width="0.75" style="font-weight:normal" font-size="7.5" text-anchor="start" textLength="14.67" lengthAdjust="spacingAndGlyphs">GND</text>
<text x="658.0" y="200.0" fill="#A82438" stroke="#A82438" stroke-width="0.75" style="font-weight:normal" font-size="7.5" text-anchor="start" textLength="14.30" lengthAdjust="spacingAndGlyphs">VCC</text>
<line x1="660.0" y1="203.3" x2="672.0" y2="203.3" stroke="#9A3030" stroke-width="1.4"/>
<line x1="666.0" y1="203.3" x2="666.0" y2="212.6" stroke="#454545" stroke-width="1.3"/>
<line x1="632.1" y1="212.6" x2="766.5" y2="212.6" stroke="#3428A8" stroke-width="1.5"/>
<circle cx="666.0" cy="212.6" r="2.1" fill="#3428A8"/>
<line x1="632.1" y1="212.6" x2="632.1" y2="230.0" stroke="#3428A8" stroke-width="1.5"/>
<line x1="632.1" y1="230.0" x2="632.1" y2="251.5" stroke="#505068" stroke-width="1.4"/>
<line x1="666.0" y1="212.6" x2="666.0" y2="231.8" stroke="#3428A8" stroke-width="1.5"/>
<rect x="662.2" y="231.8" width="8.0" height="18.4" fill="none" stroke="#3428A8" stroke-width="1.6"/>
<line x1="666.0" y1="250.2" x2="666.0" y2="260.6" stroke="#454545" stroke-width="1.3"/>
<circle cx="666.0" cy="260.6" r="2.1" fill="#3428A8"/>
<text x="670.5" y="238.0" fill="#1E1E9C" stroke="#1E1E9C" stroke-width="0.4" font-size="7.9" text-anchor="start" textLength="12.93" lengthAdjust="spacingAndGlyphs" >R12</text>
<text x="670.5" y="247.8" fill="#1E1E9C" stroke="#1E1E9C" stroke-width="0.4" font-size="7.9" text-anchor="start" textLength="13.34" lengthAdjust="spacingAndGlyphs" >10K</text>
<line x1="642.6" y1="260.6" x2="680.0" y2="260.6" stroke="#454545" stroke-width="1.4"/>
<rect x="680.0" y="256.6" width="19.8" height="8.0" fill="none" stroke="#3428A8" stroke-width="1.6"/>
<line x1="699.8" y1="260.6" x2="817.0" y2="260.6" stroke="#3428A8" stroke-width="1.5"/>
<text x="690.0" y="254.0" fill="#1E1E9C" stroke="#1E1E9C" stroke-width="0.4" font-size="7.9" text-anchor="start" textLength="12.93" lengthAdjust="spacingAndGlyphs" >R13</text>
<text x="680.0" y="272.5" fill="#1E1E9C" stroke="#1E1E9C" stroke-width="0.4" font-size="7.9" text-anchor="start" textLength="13.34" lengthAdjust="spacingAndGlyphs" >10K</text>
<text x="804.5" y="258.0" fill="#A82438" stroke="#A82438" stroke-width="0.75" style="font-weight:normal" font-size="7.5" text-anchor="start" textLength="13.93" lengthAdjust="spacingAndGlyphs">TXD</text>
<line x1="642.6" y1="253.5" x2="642.6" y2="269.2" stroke="#3428A8" stroke-width="1.9"/>
<line x1="642.2" y1="257.5" x2="632.1" y2="251.5" stroke="#3428A8" stroke-width="1.3"/>
<line x1="642.2" y1="264.5" x2="632.1" y2="271.0" stroke="#3428A8" stroke-width="1.3"/>
<path d="M641.6,257.2 L634.8,251.3 L637.6,256.8 Z" fill="#3428A8" stroke="#3428A8" stroke-width="1.2"/>
<text x="643.0" y="250.0" fill="#1E1E9C" stroke="#1E1E9C" stroke-width="0.4" font-size="7.9" text-anchor="start" textLength="9.59" lengthAdjust="spacingAndGlyphs" >Q2</text>
<text x="617.0" y="262.5" fill="#1E1E9C" stroke="#1E1E9C" stroke-width="0.4" font-size="7.9" text-anchor="start" textLength="15.01" lengthAdjust="spacingAndGlyphs" >9014</text>
<line x1="632.1" y1="271.0" x2="632.1" y2="303.3" stroke="#454545" stroke-width="1.3"/>
<circle cx="632.1" cy="289.6" r="2.1" fill="#3428A8"/>
<rect x="629.2" y="303.3" width="6.6" height="18.4" fill="none" stroke="#3428A8" stroke-width="1.6"/>
<text x="636.0" y="310.0" fill="#1E1E9C" stroke="#1E1E9C" stroke-width="0.4" font-size="7.9" text-anchor="start" textLength="9.59" lengthAdjust="spacingAndGlyphs" >1K</text>
<text x="636.0" y="319.0" fill="#1E1E9C" stroke="#1E1E9C" stroke-width="0.4" font-size="7.9" text-anchor="start" textLength="12.93" lengthAdjust="spacingAndGlyphs" >R16</text>
<line x1="632.1" y1="321.7" x2="632.1" y2="354.0" stroke="#454545" stroke-width="1.3"/>
<circle cx="632.1" cy="337.3" r="2.1" fill="#3428A8"/>
<line x1="626.0" y1="354.0" x2="640.6" y2="354.0" stroke="#3428A8" stroke-width="1.7"/>
<line x1="626.0" y1="357.6" x2="640.6" y2="357.6" stroke="#3428A8" stroke-width="1.7"/>
<text x="628.0" y="365.0" fill="#141008" font-size="6" text-anchor="start" >+</text>
<text x="640.6" y="357.0" fill="#1E1E9C" stroke="#1E1E9C" stroke-width="0.4" font-size="7.9" text-anchor="start" textLength="9.17" lengthAdjust="spacingAndGlyphs" >C3</text>
<text x="641.0" y="366.0" fill="#1E1E9C" stroke="#1E1E9C" stroke-width="0.4" font-size="7.9" text-anchor="start" textLength="16.26" lengthAdjust="spacingAndGlyphs" >10uF</text>
<line x1="632.1" y1="357.6" x2="632.1" y2="403.2" stroke="#3428A8" stroke-width="1.5"/>
<line x1="632.1" y1="403.2" x2="767.2" y2="403.2" stroke="#3428A8" stroke-width="1.5"/>
<line x1="632.1" y1="337.3" x2="651.8" y2="337.3" stroke="#454545" stroke-width="1.3"/>
<path d="M651.8,327.5 L660.7,337.3 L651.8,346.2 Z" fill="#1818E8"/>
<line x1="660.7" y1="326.7" x2="660.7" y2="345.1" stroke="#505070" stroke-width="1.5"/>
<line x1="660.7" y1="337.3" x2="693.8" y2="337.3" stroke="#454545" stroke-width="1.3"/>
<circle cx="685.3" cy="337.3" r="2.1" fill="#3428A8"/>
<text x="652.3" y="324.5" fill="#1E1E9C" stroke="#1E1E9C" stroke-width="0.4" font-size="7.9" text-anchor="start" textLength="9.17" lengthAdjust="spacingAndGlyphs" >D3</text>
<text x="655.0" y="354.0" fill="#1E1E9C" stroke="#1E1E9C" stroke-width="0.4" font-size="7.9" text-anchor="start" textLength="24.18" lengthAdjust="spacingAndGlyphs" >1N4148</text>
<rect x="693.8" y="333.2" width="19.9" height="7.6" fill="none" stroke="#3428A8" stroke-width="1.6"/>
<line x1="713.7" y1="337.3" x2="740.0" y2="337.3" stroke="#3428A8" stroke-width="1.5"/>
<line x1="740.0" y1="337.3" x2="757.0" y2="337.3" stroke="#454545" stroke-width="1.3"/>
<circle cx="728.3" cy="337.3" r="2.1" fill="#3428A8"/>
<text x="695.0" y="331.0" fill="#1E1E9C" stroke="#1E1E9C" stroke-width="0.4" font-size="7.9" text-anchor="start" textLength="12.93" lengthAdjust="spacingAndGlyphs" >R13</text>
<text x="695.0" y="353.5" fill="#1E1E9C" stroke="#1E1E9C" stroke-width="0.4" font-size="7.9" text-anchor="start" textLength="13.34" lengthAdjust="spacingAndGlyphs" >10K</text>
<line x1="728.3" y1="337.3" x2="728.3" y2="403.2" stroke="#3428A8" stroke-width="1.5"/>
<path d="M718.5,364.5 L738.3,364.5 L728.3,355 Z" fill="#1818E8"/>
<line x1="719.0" y1="355.0" x2="737.5" y2="355.0" stroke="#1818E8" stroke-width="1.6"/>
<text x="737.0" y="362.0" fill="#1E1E9C" stroke="#1E1E9C" stroke-width="0.4" font-size="7.9" text-anchor="start" textLength="9.17" lengthAdjust="spacingAndGlyphs" >D4</text>
<text x="732.5" y="377.5" fill="#1E1E9C" stroke="#1E1E9C" stroke-width="0.4" font-size="7.9" text-anchor="start" textLength="24.18" lengthAdjust="spacingAndGlyphs" >1N4148</text>
<circle cx="728.3" cy="403.2" r="2.1" fill="#3428A8"/>
<line x1="728.3" y1="403.2" x2="728.3" y2="413.7" stroke="#454545" stroke-width="1.3"/>
<line x1="718.8" y1="413.7" x2="737.8" y2="413.7" stroke="#9A3030" stroke-width="1.5"/>
<line x1="721.8" y1="416.7" x2="734.8" y2="416.7" stroke="#9A3030" stroke-width="1.5"/>
<line x1="724.3" y1="419.7" x2="732.3" y2="419.7" stroke="#9A3030" stroke-width="1.5"/>
<line x1="726.8" y1="422.7" x2="729.8" y2="422.7" stroke="#9A3030" stroke-width="1.3"/>
<line x1="757.1" y1="331.5" x2="757.1" y2="343.5" stroke="#3428A8" stroke-width="1.9"/>
<line x1="757.1" y1="334.5" x2="767.2" y2="327.0" stroke="#3428A8" stroke-width="1.3"/>
<line x1="757.1" y1="340.5" x2="767.2" y2="348.0" stroke="#3428A8" stroke-width="1.3"/>
<path d="M766.5,347.8 L759.5,345.2 L763,341.5 Z" fill="#3428A8" stroke="#3428A8" stroke-width="1"/>
<text x="752.0" y="325.5" fill="#1E1E9C" stroke="#1E1E9C" stroke-width="0.4" font-size="7.9" text-anchor="start" textLength="9.59" lengthAdjust="spacingAndGlyphs" >Q3</text>
<text x="766.5" y="339.0" fill="#1E1E9C" stroke="#1E1E9C" stroke-width="0.4" font-size="7.9" text-anchor="start" textLength="15.01" lengthAdjust="spacingAndGlyphs" >9013</text>
<line x1="767.2" y1="348.0" x2="767.2" y2="364.0" stroke="#454545" stroke-width="1.3"/>
<line x1="767.2" y1="364.0" x2="767.2" y2="403.2" stroke="#3428A8" stroke-width="1.5"/>
<line x1="766.5" y1="212.6" x2="766.5" y2="274.8" stroke="#3428A8" stroke-width="1.5"/>
<rect x="762.2" y="274.8" width="8.6" height="17.9" fill="none" stroke="#3428A8" stroke-width="1.6"/>
<line x1="766.5" y1="292.7" x2="766.5" y2="327.0" stroke="#3428A8" stroke-width="1.5"/>
<circle cx="766.5" cy="307.9" r="2.1" fill="#3428A8"/>
<line x1="766.5" y1="307.9" x2="817.0" y2="307.9" stroke="#3428A8" stroke-width="1.5"/>
<text x="771.0" y="281.5" fill="#1E1E9C" stroke="#1E1E9C" stroke-width="0.4" font-size="7.9" text-anchor="start" textLength="12.93" lengthAdjust="spacingAndGlyphs" >R14</text>
<text x="771.0" y="290.5" fill="#1E1E9C" stroke="#1E1E9C" stroke-width="0.4" font-size="7.9" text-anchor="start" textLength="9.59" lengthAdjust="spacingAndGlyphs" >1K</text>
<text x="804.5" y="306.5" fill="#A82438" stroke="#A82438" stroke-width="0.75" style="font-weight:normal" font-size="7.5" text-anchor="start" textLength="14.30" lengthAdjust="spacingAndGlyphs">RXD</text>
<rect x="564" y="441.5" width="8" height="2.2" fill="#d8d4cc" opacity="0.55"/>
<rect x="578" y="441.5" width="8" height="2.2" fill="#d8d4cc" opacity="0.55"/>
<rect x="592" y="441.5" width="14" height="2.2" fill="#d8d4cc" opacity="0.55"/>
<rect x="625" y="441.5" width="8" height="2.2" fill="#d8d4cc" opacity="0.55"/>
<rect x="638" y="441.5" width="19" height="2.2" fill="#d8d4cc" opacity="0.55"/>
<rect x="674" y="441.5" width="10" height="2.2" fill="#d8d4cc" opacity="0.55"/>
<rect x="690" y="441.5" width="22" height="2.2" fill="#d8d4cc" opacity="0.55"/>
<rect x="248" y="76.8" width="184.4" height="15.6" fill="#FAFAF0" stroke="#d0d0c0" stroke-width="0.7"/>
<rect x="248.5" y="92.2" width="184.5" height="1.8" fill="#7a7a70" opacity="0.7"/>
<text x="249.8" y="88.6" fill="#101008" stroke="#101008" stroke-width="0.6" font-size="10.4" textLength="95.5" lengthAdjust="spacingAndGlyphs" style="font-family:'Liberation Sans',sans-serif;font-weight:normal">Net Label ISP_MOSI</text>
<text x="356.5" y="88.6" fill="#101008" stroke="#101008" stroke-width="0.6" font-size="10.4" textLength="71" lengthAdjust="spacingAndGlyphs" style="font-family:'Liberation Sans',sans-serif;font-weight:normal">net: ISP_MOSI</text>
</g>
<rect x="0" y="442.6" width="817" height="6" fill="#FFFFFF"/>
</svg></body></html>
